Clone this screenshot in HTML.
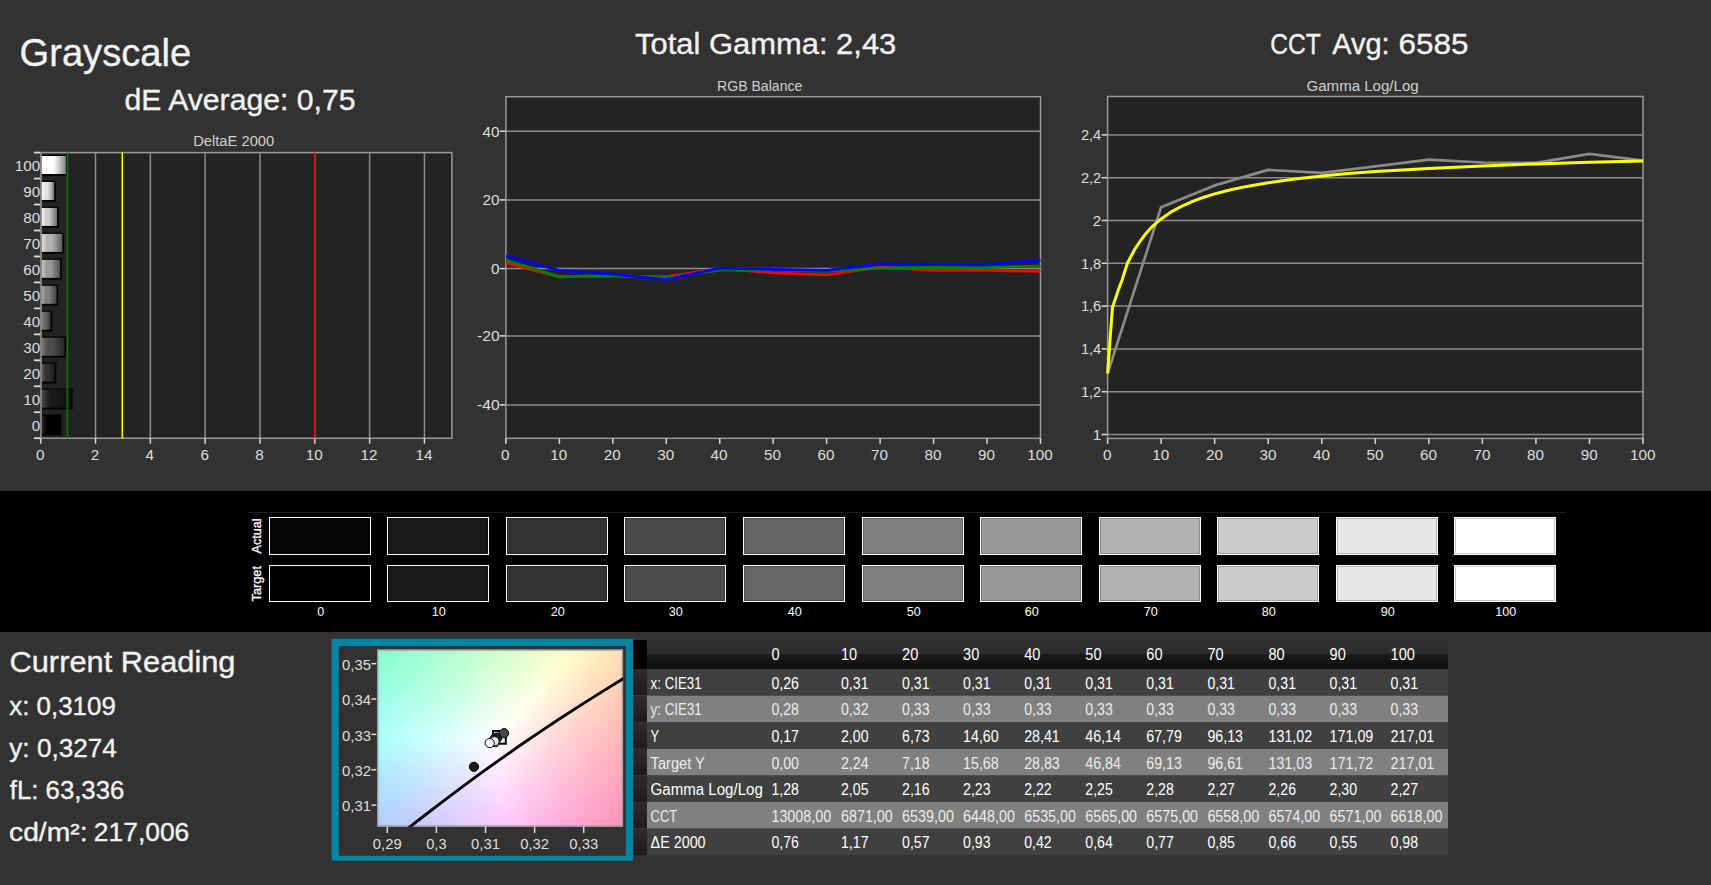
<!DOCTYPE html>
<html lang="en"><head><meta charset="utf-8"><title>Grayscale</title>
<style>
html,body{margin:0;padding:0;background:#323232;overflow:hidden}
svg{display:block;font-family:"Liberation Sans", "DejaVu Sans", sans-serif}
text{white-space:pre}
</style></head><body>
<svg width="1711" height="885" viewBox="0 0 1711 885">
<defs><linearGradient id="b100" x1="0" x2="1" y1="0" y2="0"><stop offset="0" stop-color="rgb(255,255,255)"/><stop offset="0.28" stop-color="rgb(255,255,255)"/><stop offset="0.5" stop-color="rgb(255,255,255)"/><stop offset="1" stop-color="rgb(132,132,132)"/></linearGradient>
<linearGradient id="b90" x1="0" x2="1" y1="0" y2="0"><stop offset="0" stop-color="rgb(255,255,255)"/><stop offset="0.28" stop-color="rgb(229,229,229)"/><stop offset="0.5" stop-color="rgb(229,229,229)"/><stop offset="1" stop-color="rgb(119,119,119)"/></linearGradient>
<linearGradient id="b80" x1="0" x2="1" y1="0" y2="0"><stop offset="0" stop-color="rgb(252,252,252)"/><stop offset="0.28" stop-color="rgb(204,204,204)"/><stop offset="0.5" stop-color="rgb(204,204,204)"/><stop offset="1" stop-color="rgb(106,106,106)"/></linearGradient>
<linearGradient id="b70" x1="0" x2="1" y1="0" y2="0"><stop offset="0" stop-color="rgb(226,226,226)"/><stop offset="0.28" stop-color="rgb(178,178,178)"/><stop offset="0.5" stop-color="rgb(178,178,178)"/><stop offset="1" stop-color="rgb(92,92,92)"/></linearGradient>
<linearGradient id="b60" x1="0" x2="1" y1="0" y2="0"><stop offset="0" stop-color="rgb(201,201,201)"/><stop offset="0.28" stop-color="rgb(153,153,153)"/><stop offset="0.5" stop-color="rgb(153,153,153)"/><stop offset="1" stop-color="rgb(79,79,79)"/></linearGradient>
<linearGradient id="b50" x1="0" x2="1" y1="0" y2="0"><stop offset="0" stop-color="rgb(175,175,175)"/><stop offset="0.28" stop-color="rgb(127,127,127)"/><stop offset="0.5" stop-color="rgb(127,127,127)"/><stop offset="1" stop-color="rgb(66,66,66)"/></linearGradient>
<linearGradient id="b40" x1="0" x2="1" y1="0" y2="0"><stop offset="0" stop-color="rgb(150,150,150)"/><stop offset="0.28" stop-color="rgb(102,102,102)"/><stop offset="0.5" stop-color="rgb(102,102,102)"/><stop offset="1" stop-color="rgb(53,53,53)"/></linearGradient>
<linearGradient id="b30" x1="0" x2="1" y1="0" y2="0"><stop offset="0" stop-color="rgb(124,124,124)"/><stop offset="0.28" stop-color="rgb(76,76,76)"/><stop offset="0.5" stop-color="rgb(76,76,76)"/><stop offset="1" stop-color="rgb(39,39,39)"/></linearGradient>
<linearGradient id="b20" x1="0" x2="1" y1="0" y2="0"><stop offset="0" stop-color="rgb(99,99,99)"/><stop offset="0.28" stop-color="rgb(51,51,51)"/><stop offset="0.5" stop-color="rgb(51,51,51)"/><stop offset="1" stop-color="rgb(26,26,26)"/></linearGradient>
<linearGradient id="b10" x1="0" x2="1" y1="0" y2="0"><stop offset="0" stop-color="rgb(74,74,74)"/><stop offset="0.28" stop-color="rgb(26,26,26)"/><stop offset="0.5" stop-color="rgb(26,26,26)"/><stop offset="1" stop-color="rgb(13,13,13)"/></linearGradient>
<linearGradient id="b0" x1="0" x2="1" y1="0" y2="0"><stop offset="0" stop-color="rgb(48,48,48)"/><stop offset="0.28" stop-color="rgb(0,0,0)"/><stop offset="0.5" stop-color="rgb(0,0,0)"/><stop offset="1" stop-color="rgb(0,0,0)"/></linearGradient>
<linearGradient id="c0"><stop offset="0.000" stop-color="#87ffce"/><stop offset="0.056" stop-color="#8fffce"/><stop offset="0.111" stop-color="#97ffce"/><stop offset="0.167" stop-color="#9effcd"/><stop offset="0.222" stop-color="#a6ffcd"/><stop offset="0.278" stop-color="#aeffcd"/><stop offset="0.333" stop-color="#b7ffcc"/><stop offset="0.389" stop-color="#bfffcc"/><stop offset="0.444" stop-color="#c7ffcc"/><stop offset="0.500" stop-color="#d0ffcb"/><stop offset="0.556" stop-color="#d9ffcb"/><stop offset="0.611" stop-color="#e1ffcb"/><stop offset="0.667" stop-color="#eaffca"/><stop offset="0.722" stop-color="#f3ffca"/><stop offset="0.778" stop-color="#fdffc9"/><stop offset="0.833" stop-color="#fff8c4"/><stop offset="0.889" stop-color="#ffefbc"/><stop offset="0.944" stop-color="#ffe7b6"/><stop offset="1.000" stop-color="#ffdfaf"/></linearGradient>
<linearGradient id="c1"><stop offset="0.000" stop-color="#88ffd0"/><stop offset="0.056" stop-color="#90ffd0"/><stop offset="0.111" stop-color="#98ffcf"/><stop offset="0.167" stop-color="#a0ffcf"/><stop offset="0.222" stop-color="#a8ffcf"/><stop offset="0.278" stop-color="#b0ffce"/><stop offset="0.333" stop-color="#b8ffce"/><stop offset="0.389" stop-color="#c0ffce"/><stop offset="0.444" stop-color="#c9ffcd"/><stop offset="0.500" stop-color="#d1ffcd"/><stop offset="0.556" stop-color="#daffcd"/><stop offset="0.611" stop-color="#e3ffcc"/><stop offset="0.667" stop-color="#ecffcc"/><stop offset="0.722" stop-color="#f5ffcb"/><stop offset="0.778" stop-color="#feffcb"/><stop offset="0.833" stop-color="#fff6c4"/><stop offset="0.889" stop-color="#ffeebd"/><stop offset="0.944" stop-color="#ffe6b6"/><stop offset="1.000" stop-color="#ffdeaf"/></linearGradient>
<linearGradient id="c2"><stop offset="0.000" stop-color="#89ffd1"/><stop offset="0.056" stop-color="#91ffd1"/><stop offset="0.111" stop-color="#99ffd1"/><stop offset="0.167" stop-color="#a1ffd1"/><stop offset="0.222" stop-color="#a9ffd0"/><stop offset="0.278" stop-color="#b1ffd0"/><stop offset="0.333" stop-color="#b9ffd0"/><stop offset="0.389" stop-color="#c2ffcf"/><stop offset="0.444" stop-color="#caffcf"/><stop offset="0.500" stop-color="#d3ffcf"/><stop offset="0.556" stop-color="#dcffce"/><stop offset="0.611" stop-color="#e5ffce"/><stop offset="0.667" stop-color="#eeffcd"/><stop offset="0.722" stop-color="#f7ffcd"/><stop offset="0.778" stop-color="#fffecc"/><stop offset="0.833" stop-color="#fff5c4"/><stop offset="0.889" stop-color="#ffecbd"/><stop offset="0.944" stop-color="#ffe4b6"/><stop offset="1.000" stop-color="#ffdcb0"/></linearGradient>
<linearGradient id="c3"><stop offset="0.000" stop-color="#8bffd3"/><stop offset="0.056" stop-color="#92ffd3"/><stop offset="0.111" stop-color="#9affd2"/><stop offset="0.167" stop-color="#a2ffd2"/><stop offset="0.222" stop-color="#aaffd2"/><stop offset="0.278" stop-color="#b2ffd1"/><stop offset="0.333" stop-color="#bbffd1"/><stop offset="0.389" stop-color="#c3ffd1"/><stop offset="0.444" stop-color="#ccffd0"/><stop offset="0.500" stop-color="#d4ffd0"/><stop offset="0.556" stop-color="#ddffd0"/><stop offset="0.611" stop-color="#e6ffcf"/><stop offset="0.667" stop-color="#efffcf"/><stop offset="0.722" stop-color="#f9ffcf"/><stop offset="0.778" stop-color="#fffccc"/><stop offset="0.833" stop-color="#fff3c4"/><stop offset="0.889" stop-color="#ffebbd"/><stop offset="0.944" stop-color="#ffe3b6"/><stop offset="1.000" stop-color="#ffdbb0"/></linearGradient>
<linearGradient id="c4"><stop offset="0.000" stop-color="#8cffd5"/><stop offset="0.056" stop-color="#93ffd4"/><stop offset="0.111" stop-color="#9bffd4"/><stop offset="0.167" stop-color="#a3ffd4"/><stop offset="0.222" stop-color="#abffd3"/><stop offset="0.278" stop-color="#b4ffd3"/><stop offset="0.333" stop-color="#bcffd3"/><stop offset="0.389" stop-color="#c5ffd2"/><stop offset="0.444" stop-color="#cdffd2"/><stop offset="0.500" stop-color="#d6ffd2"/><stop offset="0.556" stop-color="#dfffd1"/><stop offset="0.611" stop-color="#e8ffd1"/><stop offset="0.667" stop-color="#f1ffd1"/><stop offset="0.722" stop-color="#faffd0"/><stop offset="0.778" stop-color="#fffacc"/><stop offset="0.833" stop-color="#fff1c5"/><stop offset="0.889" stop-color="#ffe9be"/><stop offset="0.944" stop-color="#ffe1b7"/><stop offset="1.000" stop-color="#ffd9b0"/></linearGradient>
<linearGradient id="c5"><stop offset="0.000" stop-color="#8dffd6"/><stop offset="0.056" stop-color="#95ffd6"/><stop offset="0.111" stop-color="#9dffd6"/><stop offset="0.167" stop-color="#a5ffd5"/><stop offset="0.222" stop-color="#adffd5"/><stop offset="0.278" stop-color="#b5ffd5"/><stop offset="0.333" stop-color="#bdffd4"/><stop offset="0.389" stop-color="#c6ffd4"/><stop offset="0.444" stop-color="#cfffd4"/><stop offset="0.500" stop-color="#d7ffd3"/><stop offset="0.556" stop-color="#e0ffd3"/><stop offset="0.611" stop-color="#e9ffd3"/><stop offset="0.667" stop-color="#f3ffd2"/><stop offset="0.722" stop-color="#fcffd2"/><stop offset="0.778" stop-color="#fff9cd"/><stop offset="0.833" stop-color="#fff0c5"/><stop offset="0.889" stop-color="#ffe7be"/><stop offset="0.944" stop-color="#ffe0b7"/><stop offset="1.000" stop-color="#ffd8b1"/></linearGradient>
<linearGradient id="c6"><stop offset="0.000" stop-color="#8effd8"/><stop offset="0.056" stop-color="#96ffd7"/><stop offset="0.111" stop-color="#9effd7"/><stop offset="0.167" stop-color="#a6ffd7"/><stop offset="0.222" stop-color="#aeffd7"/><stop offset="0.278" stop-color="#b6ffd6"/><stop offset="0.333" stop-color="#bfffd6"/><stop offset="0.389" stop-color="#c7ffd6"/><stop offset="0.444" stop-color="#d0ffd5"/><stop offset="0.500" stop-color="#d9ffd5"/><stop offset="0.556" stop-color="#e2ffd5"/><stop offset="0.611" stop-color="#ebffd4"/><stop offset="0.667" stop-color="#f4ffd4"/><stop offset="0.722" stop-color="#feffd4"/><stop offset="0.778" stop-color="#fff7cd"/><stop offset="0.833" stop-color="#ffeec5"/><stop offset="0.889" stop-color="#ffe6be"/><stop offset="0.944" stop-color="#ffdeb7"/><stop offset="1.000" stop-color="#ffd7b1"/></linearGradient>
<linearGradient id="c7"><stop offset="0.000" stop-color="#8fffd9"/><stop offset="0.056" stop-color="#97ffd9"/><stop offset="0.111" stop-color="#9fffd9"/><stop offset="0.167" stop-color="#a7ffd8"/><stop offset="0.222" stop-color="#afffd8"/><stop offset="0.278" stop-color="#b8ffd8"/><stop offset="0.333" stop-color="#c0ffd8"/><stop offset="0.389" stop-color="#c9ffd7"/><stop offset="0.444" stop-color="#d2ffd7"/><stop offset="0.500" stop-color="#daffd7"/><stop offset="0.556" stop-color="#e4ffd6"/><stop offset="0.611" stop-color="#edffd6"/><stop offset="0.667" stop-color="#f6ffd6"/><stop offset="0.722" stop-color="#ffffd5"/><stop offset="0.778" stop-color="#fff5cd"/><stop offset="0.833" stop-color="#ffedc6"/><stop offset="0.889" stop-color="#ffe4be"/><stop offset="0.944" stop-color="#ffddb8"/><stop offset="1.000" stop-color="#ffd5b1"/></linearGradient>
<linearGradient id="c8"><stop offset="0.000" stop-color="#90ffdb"/><stop offset="0.056" stop-color="#98ffdb"/><stop offset="0.111" stop-color="#a0ffda"/><stop offset="0.167" stop-color="#a8ffda"/><stop offset="0.222" stop-color="#b1ffda"/><stop offset="0.278" stop-color="#b9ffda"/><stop offset="0.333" stop-color="#c2ffd9"/><stop offset="0.389" stop-color="#caffd9"/><stop offset="0.444" stop-color="#d3ffd9"/><stop offset="0.500" stop-color="#dcffd8"/><stop offset="0.556" stop-color="#e5ffd8"/><stop offset="0.611" stop-color="#eeffd8"/><stop offset="0.667" stop-color="#f8ffd8"/><stop offset="0.722" stop-color="#fffdd5"/><stop offset="0.778" stop-color="#fff4cd"/><stop offset="0.833" stop-color="#ffebc6"/><stop offset="0.889" stop-color="#ffe3bf"/><stop offset="0.944" stop-color="#ffdbb8"/><stop offset="1.000" stop-color="#ffd4b1"/></linearGradient>
<linearGradient id="c9"><stop offset="0.000" stop-color="#91ffdc"/><stop offset="0.056" stop-color="#99ffdc"/><stop offset="0.111" stop-color="#a1ffdc"/><stop offset="0.167" stop-color="#aaffdc"/><stop offset="0.222" stop-color="#b2ffdb"/><stop offset="0.278" stop-color="#baffdb"/><stop offset="0.333" stop-color="#c3ffdb"/><stop offset="0.389" stop-color="#ccffdb"/><stop offset="0.444" stop-color="#d5ffda"/><stop offset="0.500" stop-color="#deffda"/><stop offset="0.556" stop-color="#e7ffda"/><stop offset="0.611" stop-color="#f0ffda"/><stop offset="0.667" stop-color="#f9ffd9"/><stop offset="0.722" stop-color="#fffbd6"/><stop offset="0.778" stop-color="#fff2ce"/><stop offset="0.833" stop-color="#ffe9c6"/><stop offset="0.889" stop-color="#ffe1bf"/><stop offset="0.944" stop-color="#ffdab8"/><stop offset="1.000" stop-color="#ffd2b2"/></linearGradient>
<linearGradient id="c10"><stop offset="0.000" stop-color="#93ffde"/><stop offset="0.056" stop-color="#9bffde"/><stop offset="0.111" stop-color="#a3ffde"/><stop offset="0.167" stop-color="#abffdd"/><stop offset="0.222" stop-color="#b3ffdd"/><stop offset="0.278" stop-color="#bcffdd"/><stop offset="0.333" stop-color="#c5ffdd"/><stop offset="0.389" stop-color="#cdffdc"/><stop offset="0.444" stop-color="#d6ffdc"/><stop offset="0.500" stop-color="#dfffdc"/><stop offset="0.556" stop-color="#e8ffdc"/><stop offset="0.611" stop-color="#f2ffdb"/><stop offset="0.667" stop-color="#fbffdb"/><stop offset="0.722" stop-color="#fff9d6"/><stop offset="0.778" stop-color="#fff0ce"/><stop offset="0.833" stop-color="#ffe8c6"/><stop offset="0.889" stop-color="#ffe0bf"/><stop offset="0.944" stop-color="#ffd8b8"/><stop offset="1.000" stop-color="#ffd1b2"/></linearGradient>
<linearGradient id="c11"><stop offset="0.000" stop-color="#94ffe0"/><stop offset="0.056" stop-color="#9cffdf"/><stop offset="0.111" stop-color="#a4ffdf"/><stop offset="0.167" stop-color="#acffdf"/><stop offset="0.222" stop-color="#b5ffdf"/><stop offset="0.278" stop-color="#bdffde"/><stop offset="0.333" stop-color="#c6ffde"/><stop offset="0.389" stop-color="#cfffde"/><stop offset="0.444" stop-color="#d8ffde"/><stop offset="0.500" stop-color="#e1ffde"/><stop offset="0.556" stop-color="#eaffdd"/><stop offset="0.611" stop-color="#f3ffdd"/><stop offset="0.667" stop-color="#fdffdd"/><stop offset="0.722" stop-color="#fff8d6"/><stop offset="0.778" stop-color="#ffefce"/><stop offset="0.833" stop-color="#ffe6c7"/><stop offset="0.889" stop-color="#ffdebf"/><stop offset="0.944" stop-color="#ffd7b9"/><stop offset="1.000" stop-color="#ffcfb2"/></linearGradient>
<linearGradient id="c12"><stop offset="0.000" stop-color="#95ffe1"/><stop offset="0.056" stop-color="#9dffe1"/><stop offset="0.111" stop-color="#a5ffe1"/><stop offset="0.167" stop-color="#aeffe1"/><stop offset="0.222" stop-color="#b6ffe0"/><stop offset="0.278" stop-color="#bfffe0"/><stop offset="0.333" stop-color="#c7ffe0"/><stop offset="0.389" stop-color="#d0ffe0"/><stop offset="0.444" stop-color="#d9ffe0"/><stop offset="0.500" stop-color="#e2ffdf"/><stop offset="0.556" stop-color="#ecffdf"/><stop offset="0.611" stop-color="#f5ffdf"/><stop offset="0.667" stop-color="#ffffdf"/><stop offset="0.722" stop-color="#fff6d6"/><stop offset="0.778" stop-color="#ffedce"/><stop offset="0.833" stop-color="#ffe5c7"/><stop offset="0.889" stop-color="#ffddc0"/><stop offset="0.944" stop-color="#ffd5b9"/><stop offset="1.000" stop-color="#ffceb3"/></linearGradient>
<linearGradient id="c13"><stop offset="0.000" stop-color="#96ffe3"/><stop offset="0.056" stop-color="#9effe3"/><stop offset="0.111" stop-color="#a7ffe2"/><stop offset="0.167" stop-color="#afffe2"/><stop offset="0.222" stop-color="#b7ffe2"/><stop offset="0.278" stop-color="#c0ffe2"/><stop offset="0.333" stop-color="#c9ffe2"/><stop offset="0.389" stop-color="#d2ffe1"/><stop offset="0.444" stop-color="#dbffe1"/><stop offset="0.500" stop-color="#e4ffe1"/><stop offset="0.556" stop-color="#edffe1"/><stop offset="0.611" stop-color="#f7ffe1"/><stop offset="0.667" stop-color="#fffddf"/><stop offset="0.722" stop-color="#fff4d7"/><stop offset="0.778" stop-color="#ffebcf"/><stop offset="0.833" stop-color="#ffe3c7"/><stop offset="0.889" stop-color="#ffdbc0"/><stop offset="0.944" stop-color="#ffd4b9"/><stop offset="1.000" stop-color="#ffcdb3"/></linearGradient>
<linearGradient id="c14"><stop offset="0.000" stop-color="#97ffe5"/><stop offset="0.056" stop-color="#a0ffe4"/><stop offset="0.111" stop-color="#a8ffe4"/><stop offset="0.167" stop-color="#b0ffe4"/><stop offset="0.222" stop-color="#b9ffe4"/><stop offset="0.278" stop-color="#c2ffe4"/><stop offset="0.333" stop-color="#caffe3"/><stop offset="0.389" stop-color="#d3ffe3"/><stop offset="0.444" stop-color="#dcffe3"/><stop offset="0.500" stop-color="#e6ffe3"/><stop offset="0.556" stop-color="#efffe3"/><stop offset="0.611" stop-color="#f9ffe2"/><stop offset="0.667" stop-color="#fffcdf"/><stop offset="0.722" stop-color="#fff2d7"/><stop offset="0.778" stop-color="#ffeacf"/><stop offset="0.833" stop-color="#ffe1c7"/><stop offset="0.889" stop-color="#ffdac0"/><stop offset="0.944" stop-color="#ffd2b9"/><stop offset="1.000" stop-color="#ffcbb3"/></linearGradient>
<linearGradient id="c15"><stop offset="0.000" stop-color="#99ffe6"/><stop offset="0.056" stop-color="#a1ffe6"/><stop offset="0.111" stop-color="#a9ffe6"/><stop offset="0.167" stop-color="#b2ffe6"/><stop offset="0.222" stop-color="#baffe6"/><stop offset="0.278" stop-color="#c3ffe5"/><stop offset="0.333" stop-color="#ccffe5"/><stop offset="0.389" stop-color="#d5ffe5"/><stop offset="0.444" stop-color="#deffe5"/><stop offset="0.500" stop-color="#e7ffe5"/><stop offset="0.556" stop-color="#f1ffe4"/><stop offset="0.611" stop-color="#faffe4"/><stop offset="0.667" stop-color="#fffadf"/><stop offset="0.722" stop-color="#fff1d7"/><stop offset="0.778" stop-color="#ffe8cf"/><stop offset="0.833" stop-color="#ffe0c8"/><stop offset="0.889" stop-color="#ffd8c0"/><stop offset="0.944" stop-color="#ffd1ba"/><stop offset="1.000" stop-color="#ffcab3"/></linearGradient>
<linearGradient id="c16"><stop offset="0.000" stop-color="#9affe8"/><stop offset="0.056" stop-color="#a2ffe8"/><stop offset="0.111" stop-color="#abffe8"/><stop offset="0.167" stop-color="#b3ffe7"/><stop offset="0.222" stop-color="#bcffe7"/><stop offset="0.278" stop-color="#c4ffe7"/><stop offset="0.333" stop-color="#cdffe7"/><stop offset="0.389" stop-color="#d6ffe7"/><stop offset="0.444" stop-color="#e0ffe7"/><stop offset="0.500" stop-color="#e9ffe6"/><stop offset="0.556" stop-color="#f3ffe6"/><stop offset="0.611" stop-color="#fcffe6"/><stop offset="0.667" stop-color="#fff8e0"/><stop offset="0.722" stop-color="#ffefd7"/><stop offset="0.778" stop-color="#ffe6cf"/><stop offset="0.833" stop-color="#ffdec8"/><stop offset="0.889" stop-color="#ffd7c1"/><stop offset="0.944" stop-color="#ffcfba"/><stop offset="1.000" stop-color="#ffc8b4"/></linearGradient>
<linearGradient id="c17"><stop offset="0.000" stop-color="#9bffea"/><stop offset="0.056" stop-color="#a3ffe9"/><stop offset="0.111" stop-color="#acffe9"/><stop offset="0.167" stop-color="#b4ffe9"/><stop offset="0.222" stop-color="#bdffe9"/><stop offset="0.278" stop-color="#c6ffe9"/><stop offset="0.333" stop-color="#cfffe9"/><stop offset="0.389" stop-color="#d8ffe9"/><stop offset="0.444" stop-color="#e1ffe8"/><stop offset="0.500" stop-color="#ebffe8"/><stop offset="0.556" stop-color="#f4ffe8"/><stop offset="0.611" stop-color="#feffe8"/><stop offset="0.667" stop-color="#fff6e0"/><stop offset="0.722" stop-color="#ffedd7"/><stop offset="0.778" stop-color="#ffe5d0"/><stop offset="0.833" stop-color="#ffddc8"/><stop offset="0.889" stop-color="#ffd5c1"/><stop offset="0.944" stop-color="#ffceba"/><stop offset="1.000" stop-color="#ffc7b4"/></linearGradient>
<linearGradient id="c18"><stop offset="0.000" stop-color="#9cffeb"/><stop offset="0.056" stop-color="#a5ffeb"/><stop offset="0.111" stop-color="#adffeb"/><stop offset="0.167" stop-color="#b6ffeb"/><stop offset="0.222" stop-color="#bfffeb"/><stop offset="0.278" stop-color="#c7ffeb"/><stop offset="0.333" stop-color="#d0ffea"/><stop offset="0.389" stop-color="#daffea"/><stop offset="0.444" stop-color="#e3ffea"/><stop offset="0.500" stop-color="#ecffea"/><stop offset="0.556" stop-color="#f6ffea"/><stop offset="0.611" stop-color="#fffee9"/><stop offset="0.667" stop-color="#fff5e0"/><stop offset="0.722" stop-color="#ffecd8"/><stop offset="0.778" stop-color="#ffe3d0"/><stop offset="0.833" stop-color="#ffdbc8"/><stop offset="0.889" stop-color="#ffd4c1"/><stop offset="0.944" stop-color="#ffccbb"/><stop offset="1.000" stop-color="#ffc6b4"/></linearGradient>
<linearGradient id="c19"><stop offset="0.000" stop-color="#9effed"/><stop offset="0.056" stop-color="#a6ffed"/><stop offset="0.111" stop-color="#afffed"/><stop offset="0.167" stop-color="#b7ffed"/><stop offset="0.222" stop-color="#c0ffed"/><stop offset="0.278" stop-color="#c9ffec"/><stop offset="0.333" stop-color="#d2ffec"/><stop offset="0.389" stop-color="#dbffec"/><stop offset="0.444" stop-color="#e5ffec"/><stop offset="0.500" stop-color="#eeffec"/><stop offset="0.556" stop-color="#f8ffec"/><stop offset="0.611" stop-color="#fffce9"/><stop offset="0.667" stop-color="#fff3e0"/><stop offset="0.722" stop-color="#ffead8"/><stop offset="0.778" stop-color="#ffe2d0"/><stop offset="0.833" stop-color="#ffdac9"/><stop offset="0.889" stop-color="#ffd2c2"/><stop offset="0.944" stop-color="#ffcbbb"/><stop offset="1.000" stop-color="#ffc4b4"/></linearGradient>
<linearGradient id="c20"><stop offset="0.000" stop-color="#9fffef"/><stop offset="0.056" stop-color="#a7ffef"/><stop offset="0.111" stop-color="#b0ffef"/><stop offset="0.167" stop-color="#b9ffee"/><stop offset="0.222" stop-color="#c1ffee"/><stop offset="0.278" stop-color="#caffee"/><stop offset="0.333" stop-color="#d4ffee"/><stop offset="0.389" stop-color="#ddffee"/><stop offset="0.444" stop-color="#e6ffee"/><stop offset="0.500" stop-color="#f0ffee"/><stop offset="0.556" stop-color="#faffee"/><stop offset="0.611" stop-color="#fffbe9"/><stop offset="0.667" stop-color="#fff1e1"/><stop offset="0.722" stop-color="#ffe8d8"/><stop offset="0.778" stop-color="#ffe0d0"/><stop offset="0.833" stop-color="#ffd8c9"/><stop offset="0.889" stop-color="#ffd1c2"/><stop offset="0.944" stop-color="#ffcabb"/><stop offset="1.000" stop-color="#ffc3b5"/></linearGradient>
<linearGradient id="c21"><stop offset="0.000" stop-color="#a0fff1"/><stop offset="0.056" stop-color="#a9fff0"/><stop offset="0.111" stop-color="#b1fff0"/><stop offset="0.167" stop-color="#bafff0"/><stop offset="0.222" stop-color="#c3fff0"/><stop offset="0.278" stop-color="#ccfff0"/><stop offset="0.333" stop-color="#d5fff0"/><stop offset="0.389" stop-color="#dffff0"/><stop offset="0.444" stop-color="#e8fff0"/><stop offset="0.500" stop-color="#f2fff0"/><stop offset="0.556" stop-color="#fbfff0"/><stop offset="0.611" stop-color="#fff9ea"/><stop offset="0.667" stop-color="#ffefe1"/><stop offset="0.722" stop-color="#ffe7d8"/><stop offset="0.778" stop-color="#ffded1"/><stop offset="0.833" stop-color="#ffd7c9"/><stop offset="0.889" stop-color="#ffcfc2"/><stop offset="0.944" stop-color="#ffc8bb"/><stop offset="1.000" stop-color="#ffc1b5"/></linearGradient>
<linearGradient id="c22"><stop offset="0.000" stop-color="#a1fff2"/><stop offset="0.056" stop-color="#aafff2"/><stop offset="0.111" stop-color="#b3fff2"/><stop offset="0.167" stop-color="#bcfff2"/><stop offset="0.222" stop-color="#c4fff2"/><stop offset="0.278" stop-color="#cefff2"/><stop offset="0.333" stop-color="#d7fff2"/><stop offset="0.389" stop-color="#e0fff2"/><stop offset="0.444" stop-color="#eafff2"/><stop offset="0.500" stop-color="#f3fff2"/><stop offset="0.556" stop-color="#fdfff1"/><stop offset="0.611" stop-color="#fff7ea"/><stop offset="0.667" stop-color="#ffeee1"/><stop offset="0.722" stop-color="#ffe5d9"/><stop offset="0.778" stop-color="#ffddd1"/><stop offset="0.833" stop-color="#ffd5c9"/><stop offset="0.889" stop-color="#ffcec2"/><stop offset="0.944" stop-color="#ffc7bc"/><stop offset="1.000" stop-color="#ffc0b5"/></linearGradient>
<linearGradient id="c23"><stop offset="0.000" stop-color="#a3fff4"/><stop offset="0.056" stop-color="#abfff4"/><stop offset="0.111" stop-color="#b4fff4"/><stop offset="0.167" stop-color="#bdfff4"/><stop offset="0.222" stop-color="#c6fff4"/><stop offset="0.278" stop-color="#cffff4"/><stop offset="0.333" stop-color="#d8fff4"/><stop offset="0.389" stop-color="#e2fff4"/><stop offset="0.444" stop-color="#ebfff4"/><stop offset="0.500" stop-color="#f5fff3"/><stop offset="0.556" stop-color="#fffff3"/><stop offset="0.611" stop-color="#fff5ea"/><stop offset="0.667" stop-color="#ffece1"/><stop offset="0.722" stop-color="#ffe3d9"/><stop offset="0.778" stop-color="#ffdbd1"/><stop offset="0.833" stop-color="#ffd4ca"/><stop offset="0.889" stop-color="#ffccc3"/><stop offset="0.944" stop-color="#ffc5bc"/><stop offset="1.000" stop-color="#ffbfb6"/></linearGradient>
<linearGradient id="c24"><stop offset="0.000" stop-color="#a4fff6"/><stop offset="0.056" stop-color="#adfff6"/><stop offset="0.111" stop-color="#b6fff6"/><stop offset="0.167" stop-color="#befff6"/><stop offset="0.222" stop-color="#c7fff6"/><stop offset="0.278" stop-color="#d1fff6"/><stop offset="0.333" stop-color="#dafff6"/><stop offset="0.389" stop-color="#e4fff6"/><stop offset="0.444" stop-color="#edfff5"/><stop offset="0.500" stop-color="#f7fff5"/><stop offset="0.556" stop-color="#fffdf3"/><stop offset="0.611" stop-color="#fff3ea"/><stop offset="0.667" stop-color="#ffeae1"/><stop offset="0.722" stop-color="#ffe2d9"/><stop offset="0.778" stop-color="#ffdad1"/><stop offset="0.833" stop-color="#ffd2ca"/><stop offset="0.889" stop-color="#ffcbc3"/><stop offset="0.944" stop-color="#ffc4bc"/><stop offset="1.000" stop-color="#ffbdb6"/></linearGradient>
<linearGradient id="c25"><stop offset="0.000" stop-color="#a5fff8"/><stop offset="0.056" stop-color="#aefff8"/><stop offset="0.111" stop-color="#b7fff8"/><stop offset="0.167" stop-color="#c0fff8"/><stop offset="0.222" stop-color="#c9fff8"/><stop offset="0.278" stop-color="#d2fff8"/><stop offset="0.333" stop-color="#dcfff8"/><stop offset="0.389" stop-color="#e5fff7"/><stop offset="0.444" stop-color="#effff7"/><stop offset="0.500" stop-color="#f9fff7"/><stop offset="0.556" stop-color="#fffbf4"/><stop offset="0.611" stop-color="#fff2ea"/><stop offset="0.667" stop-color="#ffe9e2"/><stop offset="0.722" stop-color="#ffe0d9"/><stop offset="0.778" stop-color="#ffd8d1"/><stop offset="0.833" stop-color="#ffd1ca"/><stop offset="0.889" stop-color="#ffc9c3"/><stop offset="0.944" stop-color="#ffc3bc"/><stop offset="1.000" stop-color="#ffbcb6"/></linearGradient>
<linearGradient id="c26"><stop offset="0.000" stop-color="#a7fffa"/><stop offset="0.056" stop-color="#b0fffa"/><stop offset="0.111" stop-color="#b8fffa"/><stop offset="0.167" stop-color="#c1fffa"/><stop offset="0.222" stop-color="#cbfff9"/><stop offset="0.278" stop-color="#d4fff9"/><stop offset="0.333" stop-color="#ddfff9"/><stop offset="0.389" stop-color="#e7fff9"/><stop offset="0.444" stop-color="#f1fff9"/><stop offset="0.500" stop-color="#fbfff9"/><stop offset="0.556" stop-color="#fff9f4"/><stop offset="0.611" stop-color="#fff0eb"/><stop offset="0.667" stop-color="#ffe7e2"/><stop offset="0.722" stop-color="#ffdfda"/><stop offset="0.778" stop-color="#ffd7d2"/><stop offset="0.833" stop-color="#ffcfca"/><stop offset="0.889" stop-color="#ffc8c3"/><stop offset="0.944" stop-color="#ffc1bd"/><stop offset="1.000" stop-color="#ffbbb6"/></linearGradient>
<linearGradient id="c27"><stop offset="0.000" stop-color="#a8fffb"/><stop offset="0.056" stop-color="#b1fffb"/><stop offset="0.111" stop-color="#bafffb"/><stop offset="0.167" stop-color="#c3fffb"/><stop offset="0.222" stop-color="#ccfffb"/><stop offset="0.278" stop-color="#d6fffb"/><stop offset="0.333" stop-color="#dffffb"/><stop offset="0.389" stop-color="#e9fffb"/><stop offset="0.444" stop-color="#f3fffb"/><stop offset="0.500" stop-color="#fdfffb"/><stop offset="0.556" stop-color="#fff8f4"/><stop offset="0.611" stop-color="#ffeeeb"/><stop offset="0.667" stop-color="#ffe5e2"/><stop offset="0.722" stop-color="#ffddda"/><stop offset="0.778" stop-color="#ffd5d2"/><stop offset="0.833" stop-color="#ffcecb"/><stop offset="0.889" stop-color="#ffc6c4"/><stop offset="0.944" stop-color="#ffc0bd"/><stop offset="1.000" stop-color="#ffb9b7"/></linearGradient>
<linearGradient id="c28"><stop offset="0.000" stop-color="#aafffd"/><stop offset="0.056" stop-color="#b2fffd"/><stop offset="0.111" stop-color="#bbfffd"/><stop offset="0.167" stop-color="#c4fffd"/><stop offset="0.222" stop-color="#cefffd"/><stop offset="0.278" stop-color="#d7fffd"/><stop offset="0.333" stop-color="#e1fffd"/><stop offset="0.389" stop-color="#eafffd"/><stop offset="0.444" stop-color="#f4fffd"/><stop offset="0.500" stop-color="#fefffd"/><stop offset="0.556" stop-color="#fff6f4"/><stop offset="0.611" stop-color="#ffeceb"/><stop offset="0.667" stop-color="#ffe4e2"/><stop offset="0.722" stop-color="#ffdbda"/><stop offset="0.778" stop-color="#ffd4d2"/><stop offset="0.833" stop-color="#ffcccb"/><stop offset="0.889" stop-color="#ffc5c4"/><stop offset="0.944" stop-color="#ffbebd"/><stop offset="1.000" stop-color="#ffb8b7"/></linearGradient>
<linearGradient id="c29"><stop offset="0.000" stop-color="#abffff"/><stop offset="0.056" stop-color="#b4ffff"/><stop offset="0.111" stop-color="#bdffff"/><stop offset="0.167" stop-color="#c6ffff"/><stop offset="0.222" stop-color="#cfffff"/><stop offset="0.278" stop-color="#d9ffff"/><stop offset="0.333" stop-color="#e2ffff"/><stop offset="0.389" stop-color="#ecffff"/><stop offset="0.444" stop-color="#f6ffff"/><stop offset="0.500" stop-color="#fffefe"/><stop offset="0.556" stop-color="#fff4f4"/><stop offset="0.611" stop-color="#ffebeb"/><stop offset="0.667" stop-color="#ffe2e2"/><stop offset="0.722" stop-color="#ffdada"/><stop offset="0.778" stop-color="#ffd2d2"/><stop offset="0.833" stop-color="#ffcbcb"/><stop offset="0.889" stop-color="#ffc4c4"/><stop offset="0.944" stop-color="#ffbdbd"/><stop offset="1.000" stop-color="#ffb7b7"/></linearGradient>
<linearGradient id="c30"><stop offset="0.000" stop-color="#abfdff"/><stop offset="0.056" stop-color="#b4fdff"/><stop offset="0.111" stop-color="#bdfdff"/><stop offset="0.167" stop-color="#c6fdff"/><stop offset="0.222" stop-color="#cffdff"/><stop offset="0.278" stop-color="#d9fdff"/><stop offset="0.333" stop-color="#e2fdff"/><stop offset="0.389" stop-color="#ecfdff"/><stop offset="0.444" stop-color="#f6fdff"/><stop offset="0.500" stop-color="#fffcfe"/><stop offset="0.556" stop-color="#fff2f4"/><stop offset="0.611" stop-color="#ffe9eb"/><stop offset="0.667" stop-color="#ffe0e3"/><stop offset="0.722" stop-color="#ffd8da"/><stop offset="0.778" stop-color="#ffd0d3"/><stop offset="0.833" stop-color="#ffc9cb"/><stop offset="0.889" stop-color="#ffc2c4"/><stop offset="0.944" stop-color="#ffbcbe"/><stop offset="1.000" stop-color="#ffb5b7"/></linearGradient>
<linearGradient id="c31"><stop offset="0.000" stop-color="#abfbff"/><stop offset="0.056" stop-color="#b4fbff"/><stop offset="0.111" stop-color="#bdfbff"/><stop offset="0.167" stop-color="#c6fbff"/><stop offset="0.222" stop-color="#cffbff"/><stop offset="0.278" stop-color="#d8fbff"/><stop offset="0.333" stop-color="#e2fbff"/><stop offset="0.389" stop-color="#ecfbff"/><stop offset="0.444" stop-color="#f6fbff"/><stop offset="0.500" stop-color="#fffafe"/><stop offset="0.556" stop-color="#fff0f5"/><stop offset="0.611" stop-color="#ffe7eb"/><stop offset="0.667" stop-color="#ffdfe3"/><stop offset="0.722" stop-color="#ffd7db"/><stop offset="0.778" stop-color="#ffcfd3"/><stop offset="0.833" stop-color="#ffc8cc"/><stop offset="0.889" stop-color="#ffc1c5"/><stop offset="0.944" stop-color="#ffbabe"/><stop offset="1.000" stop-color="#ffb4b8"/></linearGradient>
<linearGradient id="c32"><stop offset="0.000" stop-color="#abf9ff"/><stop offset="0.056" stop-color="#b4f9ff"/><stop offset="0.111" stop-color="#bdf9ff"/><stop offset="0.167" stop-color="#c6f9ff"/><stop offset="0.222" stop-color="#cff9ff"/><stop offset="0.278" stop-color="#d8f9ff"/><stop offset="0.333" stop-color="#e2f9ff"/><stop offset="0.389" stop-color="#ecf9ff"/><stop offset="0.444" stop-color="#f5f9ff"/><stop offset="0.500" stop-color="#fff8ff"/><stop offset="0.556" stop-color="#ffeff5"/><stop offset="0.611" stop-color="#ffe6ec"/><stop offset="0.667" stop-color="#ffdde3"/><stop offset="0.722" stop-color="#ffd5db"/><stop offset="0.778" stop-color="#ffcdd3"/><stop offset="0.833" stop-color="#ffc6cc"/><stop offset="0.889" stop-color="#ffbfc5"/><stop offset="0.944" stop-color="#ffb9be"/><stop offset="1.000" stop-color="#ffb3b8"/></linearGradient>
<linearGradient id="c33"><stop offset="0.000" stop-color="#abf7ff"/><stop offset="0.056" stop-color="#b4f7ff"/><stop offset="0.111" stop-color="#bdf7ff"/><stop offset="0.167" stop-color="#c6f7ff"/><stop offset="0.222" stop-color="#cff7ff"/><stop offset="0.278" stop-color="#d8f7ff"/><stop offset="0.333" stop-color="#e2f7ff"/><stop offset="0.389" stop-color="#ecf7ff"/><stop offset="0.444" stop-color="#f5f7ff"/><stop offset="0.500" stop-color="#fff6ff"/><stop offset="0.556" stop-color="#ffedf5"/><stop offset="0.611" stop-color="#ffe4ec"/><stop offset="0.667" stop-color="#ffdbe3"/><stop offset="0.722" stop-color="#ffd3db"/><stop offset="0.778" stop-color="#ffccd3"/><stop offset="0.833" stop-color="#ffc5cc"/><stop offset="0.889" stop-color="#ffbec5"/><stop offset="0.944" stop-color="#ffb8be"/><stop offset="1.000" stop-color="#ffb1b8"/></linearGradient>
<linearGradient id="c34"><stop offset="0.000" stop-color="#abf5ff"/><stop offset="0.056" stop-color="#b4f5ff"/><stop offset="0.111" stop-color="#bdf5ff"/><stop offset="0.167" stop-color="#c6f5ff"/><stop offset="0.222" stop-color="#cff5ff"/><stop offset="0.278" stop-color="#d8f5ff"/><stop offset="0.333" stop-color="#e2f5ff"/><stop offset="0.389" stop-color="#ebf5ff"/><stop offset="0.444" stop-color="#f5f5ff"/><stop offset="0.500" stop-color="#fff4ff"/><stop offset="0.556" stop-color="#ffebf5"/><stop offset="0.611" stop-color="#ffe2ec"/><stop offset="0.667" stop-color="#ffdae3"/><stop offset="0.722" stop-color="#ffd2db"/><stop offset="0.778" stop-color="#ffcad4"/><stop offset="0.833" stop-color="#ffc3cc"/><stop offset="0.889" stop-color="#ffbdc5"/><stop offset="0.944" stop-color="#ffb6bf"/><stop offset="1.000" stop-color="#ffb0b8"/></linearGradient>
<linearGradient id="c35"><stop offset="0.000" stop-color="#abf4ff"/><stop offset="0.056" stop-color="#b4f4ff"/><stop offset="0.111" stop-color="#bdf3ff"/><stop offset="0.167" stop-color="#c6f3ff"/><stop offset="0.222" stop-color="#cff3ff"/><stop offset="0.278" stop-color="#d8f3ff"/><stop offset="0.333" stop-color="#e2f3ff"/><stop offset="0.389" stop-color="#ebf3ff"/><stop offset="0.444" stop-color="#f5f3ff"/><stop offset="0.500" stop-color="#fff3ff"/><stop offset="0.556" stop-color="#ffe9f5"/><stop offset="0.611" stop-color="#ffe1ec"/><stop offset="0.667" stop-color="#ffd8e4"/><stop offset="0.722" stop-color="#ffd0db"/><stop offset="0.778" stop-color="#ffc9d4"/><stop offset="0.833" stop-color="#ffc2cc"/><stop offset="0.889" stop-color="#ffbbc6"/><stop offset="0.944" stop-color="#ffb5bf"/><stop offset="1.000" stop-color="#ffafb9"/></linearGradient>
<linearGradient id="c36"><stop offset="0.000" stop-color="#acf2ff"/><stop offset="0.056" stop-color="#b4f2ff"/><stop offset="0.111" stop-color="#bdf2ff"/><stop offset="0.167" stop-color="#c6f1ff"/><stop offset="0.222" stop-color="#cff1ff"/><stop offset="0.278" stop-color="#d8f1ff"/><stop offset="0.333" stop-color="#e2f1ff"/><stop offset="0.389" stop-color="#ebf1ff"/><stop offset="0.444" stop-color="#f5f1ff"/><stop offset="0.500" stop-color="#fff1ff"/><stop offset="0.556" stop-color="#ffe8f5"/><stop offset="0.611" stop-color="#ffdfec"/><stop offset="0.667" stop-color="#ffd7e4"/><stop offset="0.722" stop-color="#ffcfdc"/><stop offset="0.778" stop-color="#ffc8d4"/><stop offset="0.833" stop-color="#ffc1cd"/><stop offset="0.889" stop-color="#ffbac6"/><stop offset="0.944" stop-color="#ffb4bf"/><stop offset="1.000" stop-color="#ffaeb9"/></linearGradient>
<linearGradient id="c37"><stop offset="0.000" stop-color="#acf0ff"/><stop offset="0.056" stop-color="#b4f0ff"/><stop offset="0.111" stop-color="#bdf0ff"/><stop offset="0.167" stop-color="#c6f0ff"/><stop offset="0.222" stop-color="#cfefff"/><stop offset="0.278" stop-color="#d8efff"/><stop offset="0.333" stop-color="#e2efff"/><stop offset="0.389" stop-color="#ebefff"/><stop offset="0.444" stop-color="#f5efff"/><stop offset="0.500" stop-color="#ffefff"/><stop offset="0.556" stop-color="#ffe6f6"/><stop offset="0.611" stop-color="#ffdded"/><stop offset="0.667" stop-color="#ffd5e4"/><stop offset="0.722" stop-color="#ffcddc"/><stop offset="0.778" stop-color="#ffc6d4"/><stop offset="0.833" stop-color="#ffbfcd"/><stop offset="0.889" stop-color="#ffb9c6"/><stop offset="0.944" stop-color="#ffb2bf"/><stop offset="1.000" stop-color="#ffacb9"/></linearGradient>
<linearGradient id="c38"><stop offset="0.000" stop-color="#aceeff"/><stop offset="0.056" stop-color="#b4eeff"/><stop offset="0.111" stop-color="#bdeeff"/><stop offset="0.167" stop-color="#c6eeff"/><stop offset="0.222" stop-color="#cfeeff"/><stop offset="0.278" stop-color="#d8edff"/><stop offset="0.333" stop-color="#e2edff"/><stop offset="0.389" stop-color="#ebedff"/><stop offset="0.444" stop-color="#f5edff"/><stop offset="0.500" stop-color="#ffedff"/><stop offset="0.556" stop-color="#ffe4f6"/><stop offset="0.611" stop-color="#ffdced"/><stop offset="0.667" stop-color="#ffd3e4"/><stop offset="0.722" stop-color="#ffccdc"/><stop offset="0.778" stop-color="#ffc5d4"/><stop offset="0.833" stop-color="#ffbecd"/><stop offset="0.889" stop-color="#ffb7c6"/><stop offset="0.944" stop-color="#ffb1c0"/><stop offset="1.000" stop-color="#ffabb9"/></linearGradient>
<linearGradient id="c39"><stop offset="0.000" stop-color="#acecff"/><stop offset="0.056" stop-color="#b5ecff"/><stop offset="0.111" stop-color="#bdecff"/><stop offset="0.167" stop-color="#c6ecff"/><stop offset="0.222" stop-color="#cfecff"/><stop offset="0.278" stop-color="#d8ecff"/><stop offset="0.333" stop-color="#e2ebff"/><stop offset="0.389" stop-color="#ebebff"/><stop offset="0.444" stop-color="#f5ebff"/><stop offset="0.500" stop-color="#feebff"/><stop offset="0.556" stop-color="#ffe2f6"/><stop offset="0.611" stop-color="#ffdaed"/><stop offset="0.667" stop-color="#ffd2e4"/><stop offset="0.722" stop-color="#ffcadc"/><stop offset="0.778" stop-color="#ffc3d5"/><stop offset="0.833" stop-color="#ffbccd"/><stop offset="0.889" stop-color="#ffb6c7"/><stop offset="0.944" stop-color="#ffb0c0"/><stop offset="1.000" stop-color="#ffaaba"/></linearGradient>
<linearGradient id="c40"><stop offset="0.000" stop-color="#acebff"/><stop offset="0.056" stop-color="#b5ebff"/><stop offset="0.111" stop-color="#bdeaff"/><stop offset="0.167" stop-color="#c6eaff"/><stop offset="0.222" stop-color="#cfeaff"/><stop offset="0.278" stop-color="#d8eaff"/><stop offset="0.333" stop-color="#e2eaff"/><stop offset="0.389" stop-color="#ebe9ff"/><stop offset="0.444" stop-color="#f5e9ff"/><stop offset="0.500" stop-color="#fee9ff"/><stop offset="0.556" stop-color="#ffe1f6"/><stop offset="0.611" stop-color="#ffd8ed"/><stop offset="0.667" stop-color="#ffd0e5"/><stop offset="0.722" stop-color="#ffc9dc"/><stop offset="0.778" stop-color="#ffc2d5"/><stop offset="0.833" stop-color="#ffbbce"/><stop offset="0.889" stop-color="#ffb4c7"/><stop offset="0.944" stop-color="#ffaec0"/><stop offset="1.000" stop-color="#ffa9ba"/></linearGradient>
<linearGradient id="c41"><stop offset="0.000" stop-color="#ace9ff"/><stop offset="0.056" stop-color="#b5e9ff"/><stop offset="0.111" stop-color="#bde9ff"/><stop offset="0.167" stop-color="#c6e8ff"/><stop offset="0.222" stop-color="#cfe8ff"/><stop offset="0.278" stop-color="#d8e8ff"/><stop offset="0.333" stop-color="#e2e8ff"/><stop offset="0.389" stop-color="#ebe8ff"/><stop offset="0.444" stop-color="#f4e7ff"/><stop offset="0.500" stop-color="#fee7ff"/><stop offset="0.556" stop-color="#ffdff6"/><stop offset="0.611" stop-color="#ffd7ed"/><stop offset="0.667" stop-color="#ffcfe5"/><stop offset="0.722" stop-color="#ffc7dd"/><stop offset="0.778" stop-color="#ffc0d5"/><stop offset="0.833" stop-color="#ffbace"/><stop offset="0.889" stop-color="#ffb3c7"/><stop offset="0.944" stop-color="#ffadc0"/><stop offset="1.000" stop-color="#ffa7ba"/></linearGradient>
<linearGradient id="c42"><stop offset="0.000" stop-color="#ace7ff"/><stop offset="0.056" stop-color="#b5e7ff"/><stop offset="0.111" stop-color="#bde7ff"/><stop offset="0.167" stop-color="#c6e7ff"/><stop offset="0.222" stop-color="#cfe6ff"/><stop offset="0.278" stop-color="#d8e6ff"/><stop offset="0.333" stop-color="#e1e6ff"/><stop offset="0.389" stop-color="#ebe6ff"/><stop offset="0.444" stop-color="#f4e5ff"/><stop offset="0.500" stop-color="#fee5ff"/><stop offset="0.556" stop-color="#ffddf6"/><stop offset="0.611" stop-color="#ffd5ed"/><stop offset="0.667" stop-color="#ffcde5"/><stop offset="0.722" stop-color="#ffc6dd"/><stop offset="0.778" stop-color="#ffbfd5"/><stop offset="0.833" stop-color="#ffb8ce"/><stop offset="0.889" stop-color="#ffb2c7"/><stop offset="0.944" stop-color="#ffacc1"/><stop offset="1.000" stop-color="#ffa6ba"/></linearGradient>
<linearGradient id="c43"><stop offset="0.000" stop-color="#ace5ff"/><stop offset="0.056" stop-color="#b5e5ff"/><stop offset="0.111" stop-color="#bee5ff"/><stop offset="0.167" stop-color="#c6e5ff"/><stop offset="0.222" stop-color="#cfe5ff"/><stop offset="0.278" stop-color="#d8e4ff"/><stop offset="0.333" stop-color="#e1e4ff"/><stop offset="0.389" stop-color="#ebe4ff"/><stop offset="0.444" stop-color="#f4e4ff"/><stop offset="0.500" stop-color="#fee3ff"/><stop offset="0.556" stop-color="#ffdcf7"/><stop offset="0.611" stop-color="#ffd3ee"/><stop offset="0.667" stop-color="#ffcce5"/><stop offset="0.722" stop-color="#ffc4dd"/><stop offset="0.778" stop-color="#ffbdd6"/><stop offset="0.833" stop-color="#ffb7ce"/><stop offset="0.889" stop-color="#ffb0c7"/><stop offset="0.944" stop-color="#ffaac1"/><stop offset="1.000" stop-color="#ffa5bb"/></linearGradient>
<linearGradient id="c44"><stop offset="0.000" stop-color="#ace4ff"/><stop offset="0.056" stop-color="#b5e3ff"/><stop offset="0.111" stop-color="#bee3ff"/><stop offset="0.167" stop-color="#c6e3ff"/><stop offset="0.222" stop-color="#cfe3ff"/><stop offset="0.278" stop-color="#d8e3ff"/><stop offset="0.333" stop-color="#e1e2ff"/><stop offset="0.389" stop-color="#ebe2ff"/><stop offset="0.444" stop-color="#f4e2ff"/><stop offset="0.500" stop-color="#fee2ff"/><stop offset="0.556" stop-color="#ffdaf7"/><stop offset="0.611" stop-color="#ffd2ee"/><stop offset="0.667" stop-color="#ffcae5"/><stop offset="0.722" stop-color="#ffc3dd"/><stop offset="0.778" stop-color="#ffbcd6"/><stop offset="0.833" stop-color="#ffb5cf"/><stop offset="0.889" stop-color="#ffafc8"/><stop offset="0.944" stop-color="#ffa9c1"/><stop offset="1.000" stop-color="#ffa4bb"/></linearGradient>
<linearGradient id="c45"><stop offset="0.000" stop-color="#ade2ff"/><stop offset="0.056" stop-color="#b5e2ff"/><stop offset="0.111" stop-color="#bee1ff"/><stop offset="0.167" stop-color="#c6e1ff"/><stop offset="0.222" stop-color="#cfe1ff"/><stop offset="0.278" stop-color="#d8e1ff"/><stop offset="0.333" stop-color="#e1e0ff"/><stop offset="0.389" stop-color="#ebe0ff"/><stop offset="0.444" stop-color="#f4e0ff"/><stop offset="0.500" stop-color="#fee0ff"/><stop offset="0.556" stop-color="#ffd8f7"/><stop offset="0.611" stop-color="#ffd0ee"/><stop offset="0.667" stop-color="#ffc9e6"/><stop offset="0.722" stop-color="#ffc1de"/><stop offset="0.778" stop-color="#ffbad6"/><stop offset="0.833" stop-color="#ffb4cf"/><stop offset="0.889" stop-color="#ffaec8"/><stop offset="0.944" stop-color="#ffa8c1"/><stop offset="1.000" stop-color="#ffa2bb"/></linearGradient>
<linearGradient id="c46"><stop offset="0.000" stop-color="#ade0ff"/><stop offset="0.056" stop-color="#b5e0ff"/><stop offset="0.111" stop-color="#bee0ff"/><stop offset="0.167" stop-color="#c6dfff"/><stop offset="0.222" stop-color="#cfdfff"/><stop offset="0.278" stop-color="#d8dfff"/><stop offset="0.333" stop-color="#e1dfff"/><stop offset="0.389" stop-color="#ebdeff"/><stop offset="0.444" stop-color="#f4deff"/><stop offset="0.500" stop-color="#fedeff"/><stop offset="0.556" stop-color="#ffd7f7"/><stop offset="0.611" stop-color="#ffcfee"/><stop offset="0.667" stop-color="#ffc7e6"/><stop offset="0.722" stop-color="#ffc0de"/><stop offset="0.778" stop-color="#ffb9d6"/><stop offset="0.833" stop-color="#ffb3cf"/><stop offset="0.889" stop-color="#ffacc8"/><stop offset="0.944" stop-color="#ffa7c2"/><stop offset="1.000" stop-color="#ffa1bb"/></linearGradient>
<linearGradient id="c47"><stop offset="0.000" stop-color="#addfff"/><stop offset="0.056" stop-color="#b5deff"/><stop offset="0.111" stop-color="#bedeff"/><stop offset="0.167" stop-color="#c6deff"/><stop offset="0.222" stop-color="#cfddff"/><stop offset="0.278" stop-color="#d8ddff"/><stop offset="0.333" stop-color="#e1ddff"/><stop offset="0.389" stop-color="#eaddff"/><stop offset="0.444" stop-color="#f4dcff"/><stop offset="0.500" stop-color="#fddcff"/><stop offset="0.556" stop-color="#ffd5f7"/><stop offset="0.611" stop-color="#ffcdee"/><stop offset="0.667" stop-color="#ffc6e6"/><stop offset="0.722" stop-color="#ffbede"/><stop offset="0.778" stop-color="#ffb8d6"/><stop offset="0.833" stop-color="#ffb1cf"/><stop offset="0.889" stop-color="#ffabc8"/><stop offset="0.944" stop-color="#ffa5c2"/><stop offset="1.000" stop-color="#ffa0bc"/></linearGradient>
<linearGradient id="c48"><stop offset="0.000" stop-color="#adddff"/><stop offset="0.056" stop-color="#b5ddff"/><stop offset="0.111" stop-color="#bedcff"/><stop offset="0.167" stop-color="#c6dcff"/><stop offset="0.222" stop-color="#cfdcff"/><stop offset="0.278" stop-color="#d8dbff"/><stop offset="0.333" stop-color="#e1dbff"/><stop offset="0.389" stop-color="#eadbff"/><stop offset="0.444" stop-color="#f4dbff"/><stop offset="0.500" stop-color="#fddaff"/><stop offset="0.556" stop-color="#ffd3f7"/><stop offset="0.611" stop-color="#ffcbee"/><stop offset="0.667" stop-color="#ffc4e6"/><stop offset="0.722" stop-color="#ffbdde"/><stop offset="0.778" stop-color="#ffb6d7"/><stop offset="0.833" stop-color="#ffb0cf"/><stop offset="0.889" stop-color="#ffaac9"/><stop offset="0.944" stop-color="#ffa4c2"/><stop offset="1.000" stop-color="#ff9fbc"/></linearGradient>
<linearGradient id="c49"><stop offset="0.000" stop-color="#addbff"/><stop offset="0.056" stop-color="#b5dbff"/><stop offset="0.111" stop-color="#bedbff"/><stop offset="0.167" stop-color="#c7daff"/><stop offset="0.222" stop-color="#cfdaff"/><stop offset="0.278" stop-color="#d8daff"/><stop offset="0.333" stop-color="#e1d9ff"/><stop offset="0.389" stop-color="#ead9ff"/><stop offset="0.444" stop-color="#f4d9ff"/><stop offset="0.500" stop-color="#fdd8ff"/><stop offset="0.556" stop-color="#ffd2f7"/><stop offset="0.611" stop-color="#ffcaef"/><stop offset="0.667" stop-color="#ffc3e6"/><stop offset="0.722" stop-color="#ffbcde"/><stop offset="0.778" stop-color="#ffb5d7"/><stop offset="0.833" stop-color="#ffafd0"/><stop offset="0.889" stop-color="#ffa9c9"/><stop offset="0.944" stop-color="#ffa3c2"/><stop offset="1.000" stop-color="#ff9dbc"/></linearGradient>
<linearGradient id="c50"><stop offset="0.000" stop-color="#add9ff"/><stop offset="0.056" stop-color="#b5d9ff"/><stop offset="0.111" stop-color="#bed9ff"/><stop offset="0.167" stop-color="#c7d9ff"/><stop offset="0.222" stop-color="#cfd8ff"/><stop offset="0.278" stop-color="#d8d8ff"/><stop offset="0.333" stop-color="#e1d8ff"/><stop offset="0.389" stop-color="#ead7ff"/><stop offset="0.444" stop-color="#f4d7ff"/><stop offset="0.500" stop-color="#fdd7ff"/><stop offset="0.556" stop-color="#ffd0f8"/><stop offset="0.611" stop-color="#ffc8ef"/><stop offset="0.667" stop-color="#ffc1e6"/><stop offset="0.722" stop-color="#ffbadf"/><stop offset="0.778" stop-color="#ffb3d7"/><stop offset="0.833" stop-color="#ffadd0"/><stop offset="0.889" stop-color="#ffa7c9"/><stop offset="0.944" stop-color="#ffa2c3"/><stop offset="1.000" stop-color="#ff9cbc"/></linearGradient>
<linearGradient id="c51"><stop offset="0.000" stop-color="#add8ff"/><stop offset="0.056" stop-color="#b6d7ff"/><stop offset="0.111" stop-color="#bed7ff"/><stop offset="0.167" stop-color="#c7d7ff"/><stop offset="0.222" stop-color="#cfd7ff"/><stop offset="0.278" stop-color="#d8d6ff"/><stop offset="0.333" stop-color="#e1d6ff"/><stop offset="0.389" stop-color="#ead6ff"/><stop offset="0.444" stop-color="#f3d5ff"/><stop offset="0.500" stop-color="#fdd5ff"/><stop offset="0.556" stop-color="#ffcff8"/><stop offset="0.611" stop-color="#ffc7ef"/><stop offset="0.667" stop-color="#ffc0e7"/><stop offset="0.722" stop-color="#ffb9df"/><stop offset="0.778" stop-color="#ffb2d7"/><stop offset="0.833" stop-color="#ffacd0"/><stop offset="0.889" stop-color="#ffa6c9"/><stop offset="0.944" stop-color="#ffa0c3"/><stop offset="1.000" stop-color="#ff9bbd"/></linearGradient>
<linearGradient id="c52"><stop offset="0.000" stop-color="#add6ff"/><stop offset="0.056" stop-color="#b6d6ff"/><stop offset="0.111" stop-color="#bed6ff"/><stop offset="0.167" stop-color="#c7d5ff"/><stop offset="0.222" stop-color="#cfd5ff"/><stop offset="0.278" stop-color="#d8d5ff"/><stop offset="0.333" stop-color="#e1d4ff"/><stop offset="0.389" stop-color="#ead4ff"/><stop offset="0.444" stop-color="#f3d3ff"/><stop offset="0.500" stop-color="#fdd3ff"/><stop offset="0.556" stop-color="#ffcdf8"/><stop offset="0.611" stop-color="#ffc5ef"/><stop offset="0.667" stop-color="#ffbee7"/><stop offset="0.722" stop-color="#ffb7df"/><stop offset="0.778" stop-color="#ffb1d7"/><stop offset="0.833" stop-color="#ffabd0"/><stop offset="0.889" stop-color="#ffa5ca"/><stop offset="0.944" stop-color="#ff9fc3"/><stop offset="1.000" stop-color="#ff9abd"/></linearGradient>
<linearGradient id="c53"><stop offset="0.000" stop-color="#add4ff"/><stop offset="0.056" stop-color="#b6d4ff"/><stop offset="0.111" stop-color="#bed4ff"/><stop offset="0.167" stop-color="#c7d3ff"/><stop offset="0.222" stop-color="#cfd3ff"/><stop offset="0.278" stop-color="#d8d3ff"/><stop offset="0.333" stop-color="#e1d2ff"/><stop offset="0.389" stop-color="#ead2ff"/><stop offset="0.444" stop-color="#f3d2ff"/><stop offset="0.500" stop-color="#fdd1ff"/><stop offset="0.556" stop-color="#ffcbf8"/><stop offset="0.611" stop-color="#ffc4ef"/><stop offset="0.667" stop-color="#ffbde7"/><stop offset="0.722" stop-color="#ffb6df"/><stop offset="0.778" stop-color="#ffafd8"/><stop offset="0.833" stop-color="#ffa9d1"/><stop offset="0.889" stop-color="#ffa3ca"/><stop offset="0.944" stop-color="#ff9ec3"/><stop offset="1.000" stop-color="#ff99bd"/></linearGradient>
<linearGradient id="c54"><stop offset="0.000" stop-color="#aed3ff"/><stop offset="0.056" stop-color="#b6d3ff"/><stop offset="0.111" stop-color="#bed2ff"/><stop offset="0.167" stop-color="#c7d2ff"/><stop offset="0.222" stop-color="#cfd1ff"/><stop offset="0.278" stop-color="#d8d1ff"/><stop offset="0.333" stop-color="#e1d1ff"/><stop offset="0.389" stop-color="#ead0ff"/><stop offset="0.444" stop-color="#f3d0ff"/><stop offset="0.500" stop-color="#fcd0ff"/><stop offset="0.556" stop-color="#ffcaf8"/><stop offset="0.611" stop-color="#ffc2ef"/><stop offset="0.667" stop-color="#ffbbe7"/><stop offset="0.722" stop-color="#ffb4df"/><stop offset="0.778" stop-color="#ffaed8"/><stop offset="0.833" stop-color="#ffa8d1"/><stop offset="0.889" stop-color="#ffa2ca"/><stop offset="0.944" stop-color="#ff9dc4"/><stop offset="1.000" stop-color="#ff97bd"/></linearGradient>
<linearGradient id="c55"><stop offset="0.000" stop-color="#aed1ff"/><stop offset="0.056" stop-color="#b6d1ff"/><stop offset="0.111" stop-color="#bed1ff"/><stop offset="0.167" stop-color="#c7d0ff"/><stop offset="0.222" stop-color="#cfd0ff"/><stop offset="0.278" stop-color="#d8cfff"/><stop offset="0.333" stop-color="#e1cfff"/><stop offset="0.389" stop-color="#eacfff"/><stop offset="0.444" stop-color="#f3ceff"/><stop offset="0.500" stop-color="#fcceff"/><stop offset="0.556" stop-color="#ffc8f8"/><stop offset="0.611" stop-color="#ffc1f0"/><stop offset="0.667" stop-color="#ffbae7"/><stop offset="0.722" stop-color="#ffb3df"/><stop offset="0.778" stop-color="#ffadd8"/><stop offset="0.833" stop-color="#ffa7d1"/><stop offset="0.889" stop-color="#ffa1ca"/><stop offset="0.944" stop-color="#ff9bc4"/><stop offset="1.000" stop-color="#ff96be"/></linearGradient>
<linearGradient id="c56"><stop offset="0.000" stop-color="#aed0ff"/><stop offset="0.056" stop-color="#b6cfff"/><stop offset="0.111" stop-color="#becfff"/><stop offset="0.167" stop-color="#c7cfff"/><stop offset="0.222" stop-color="#cfceff"/><stop offset="0.278" stop-color="#d8ceff"/><stop offset="0.333" stop-color="#e1cdff"/><stop offset="0.389" stop-color="#eacdff"/><stop offset="0.444" stop-color="#f3cdff"/><stop offset="0.500" stop-color="#fcccff"/><stop offset="0.556" stop-color="#ffc7f9"/><stop offset="0.611" stop-color="#ffbff0"/><stop offset="0.667" stop-color="#ffb8e8"/><stop offset="0.722" stop-color="#ffb2e0"/><stop offset="0.778" stop-color="#ffabd8"/><stop offset="0.833" stop-color="#ffa5d1"/><stop offset="0.889" stop-color="#ffa0ca"/><stop offset="0.944" stop-color="#ff9ac4"/><stop offset="1.000" stop-color="#ff95be"/></linearGradient>
<linearGradient id="c57"><stop offset="0.000" stop-color="#aeceff"/><stop offset="0.056" stop-color="#b6ceff"/><stop offset="0.111" stop-color="#becdff"/><stop offset="0.167" stop-color="#c7cdff"/><stop offset="0.222" stop-color="#cfccff"/><stop offset="0.278" stop-color="#d8ccff"/><stop offset="0.333" stop-color="#e1ccff"/><stop offset="0.389" stop-color="#eacbff"/><stop offset="0.444" stop-color="#f3cbff"/><stop offset="0.500" stop-color="#fccaff"/><stop offset="0.556" stop-color="#ffc5f9"/><stop offset="0.611" stop-color="#ffbef0"/><stop offset="0.667" stop-color="#ffb7e8"/><stop offset="0.722" stop-color="#ffb0e0"/><stop offset="0.778" stop-color="#ffaad8"/><stop offset="0.833" stop-color="#ffa4d1"/><stop offset="0.889" stop-color="#ff9ecb"/><stop offset="0.944" stop-color="#ff99c4"/><stop offset="1.000" stop-color="#ff94be"/></linearGradient>
<linearGradient id="c58"><stop offset="0.000" stop-color="#aecdff"/><stop offset="0.056" stop-color="#b6ccff"/><stop offset="0.111" stop-color="#beccff"/><stop offset="0.167" stop-color="#c7cbff"/><stop offset="0.222" stop-color="#cfcbff"/><stop offset="0.278" stop-color="#d8cbff"/><stop offset="0.333" stop-color="#e1caff"/><stop offset="0.389" stop-color="#eacaff"/><stop offset="0.444" stop-color="#f3c9ff"/><stop offset="0.500" stop-color="#fcc9ff"/><stop offset="0.556" stop-color="#ffc4f9"/><stop offset="0.611" stop-color="#ffbcf0"/><stop offset="0.667" stop-color="#ffb6e8"/><stop offset="0.722" stop-color="#ffafe0"/><stop offset="0.778" stop-color="#ffa9d9"/><stop offset="0.833" stop-color="#ffa3d2"/><stop offset="0.889" stop-color="#ff9dcb"/><stop offset="0.944" stop-color="#ff98c4"/><stop offset="1.000" stop-color="#ff93be"/></linearGradient>
<linearGradient id="th" x1="0" x2="0" y1="0" y2="1"><stop offset="0" stop-color="#303030"/><stop offset="0.5" stop-color="#2b2b2b"/><stop offset="0.5" stop-color="#1c1c1c"/><stop offset="1" stop-color="#0c0c0c"/></linearGradient>
<linearGradient id="rh" x1="0" x2="0" y1="0" y2="1"><stop offset="0" stop-color="#2c2c2c"/><stop offset="1" stop-color="#1c1c1c"/></linearGradient></defs>
<rect x="0.00" y="0.00" width="1711.00" height="885.00" fill="#323232"/>
<rect x="0.00" y="491.00" width="1711.00" height="141.00" fill="#000"/>
<text x="19.6" y="66.4" font-size="39.3" fill="#f2f2f2" textLength="171.5" lengthAdjust="spacingAndGlyphs" stroke="#f2f2f2" stroke-width="0.35">Grayscale</text>
<text x="124.5" y="110.2" font-size="29.2" fill="#f2f2f2" textLength="231.0" lengthAdjust="spacingAndGlyphs" stroke="#f2f2f2" stroke-width="0.35">dE Average: 0,75</text>
<text x="635.0" y="54.2" font-size="29.2" fill="#f2f2f2" textLength="261.3" lengthAdjust="spacingAndGlyphs" stroke="#f2f2f2" stroke-width="0.35">Total Gamma: 2,43</text>
<text x="1270.2" y="54.2" font-size="29.2" fill="#f2f2f2" textLength="50.5" lengthAdjust="spacingAndGlyphs" stroke="#f2f2f2" stroke-width="0.35">CCT</text>
<text x="1332.2" y="54.2" font-size="29.2" fill="#f2f2f2" textLength="57.5" lengthAdjust="spacingAndGlyphs" stroke="#f2f2f2" stroke-width="0.35">Avg:</text>
<text x="1398.6" y="54.2" font-size="29.2" fill="#f2f2f2" textLength="70.0" lengthAdjust="spacingAndGlyphs" stroke="#f2f2f2" stroke-width="0.35">6585</text>
<text x="193.2" y="146.4" font-size="14" fill="#d0d0d0" textLength="81.0" lengthAdjust="spacingAndGlyphs">DeltaE 2000</text>
<text x="717.0" y="90.5" font-size="14" fill="#d0d0d0" textLength="85.4" lengthAdjust="spacingAndGlyphs">RGB Balance</text>
<text x="1306.5" y="90.5" font-size="14" fill="#d0d0d0" textLength="112.2" lengthAdjust="spacingAndGlyphs">Gamma Log/Log</text>
<rect x="41.00" y="152.60" width="410.85" height="285.60" fill="#232323"/>
<line x1="95.52" y1="152.60" x2="95.52" y2="438.20" stroke="#8c8c8c" stroke-width="1.5"/>
<line x1="150.34" y1="152.60" x2="150.34" y2="438.20" stroke="#8c8c8c" stroke-width="1.5"/>
<line x1="205.16" y1="152.60" x2="205.16" y2="438.20" stroke="#8c8c8c" stroke-width="1.5"/>
<line x1="259.98" y1="152.60" x2="259.98" y2="438.20" stroke="#8c8c8c" stroke-width="1.5"/>
<line x1="314.80" y1="152.60" x2="314.80" y2="438.20" stroke="#8c8c8c" stroke-width="1.5"/>
<line x1="369.62" y1="152.60" x2="369.62" y2="438.20" stroke="#8c8c8c" stroke-width="1.5"/>
<line x1="424.44" y1="152.60" x2="424.44" y2="438.20" stroke="#8c8c8c" stroke-width="1.5"/>
<rect x="41.00" y="154.80" width="26.45" height="21.00" fill="#000"/>
<rect x="41.50" y="156.00" width="24.35" height="18.00" fill="url(#b100)"/>
<line x1="33.90" y1="152.60" x2="40.50" y2="152.60" stroke="#dcdcdc" stroke-width="1.8"/>
<text x="40.3" y="171.3" font-size="15.5" fill="#dedede" text-anchor="end" textLength="25.5" lengthAdjust="spacingAndGlyphs">100</text>
<rect x="41.00" y="180.76" width="14.72" height="21.00" fill="#000"/>
<rect x="41.50" y="181.96" width="12.62" height="18.00" fill="url(#b90)"/>
<line x1="33.90" y1="178.56" x2="40.50" y2="178.56" stroke="#dcdcdc" stroke-width="1.8"/>
<text x="40.3" y="197.3" font-size="15.5" fill="#dedede" text-anchor="end" textLength="17.0" lengthAdjust="spacingAndGlyphs">90</text>
<rect x="41.00" y="206.73" width="17.72" height="21.00" fill="#000"/>
<rect x="41.50" y="207.93" width="15.62" height="18.00" fill="url(#b80)"/>
<line x1="33.90" y1="204.53" x2="40.50" y2="204.53" stroke="#dcdcdc" stroke-width="1.8"/>
<text x="40.3" y="223.2" font-size="15.5" fill="#dedede" text-anchor="end" textLength="17.0" lengthAdjust="spacingAndGlyphs">80</text>
<rect x="41.00" y="232.69" width="22.91" height="21.00" fill="#000"/>
<rect x="41.50" y="233.89" width="20.80" height="18.00" fill="url(#b70)"/>
<line x1="33.90" y1="230.49" x2="40.50" y2="230.49" stroke="#dcdcdc" stroke-width="1.8"/>
<text x="40.3" y="249.2" font-size="15.5" fill="#dedede" text-anchor="end" textLength="17.0" lengthAdjust="spacingAndGlyphs">70</text>
<rect x="41.00" y="258.65" width="20.72" height="21.00" fill="#000"/>
<rect x="41.50" y="259.85" width="18.62" height="18.00" fill="url(#b60)"/>
<line x1="33.90" y1="256.45" x2="40.50" y2="256.45" stroke="#dcdcdc" stroke-width="1.8"/>
<text x="40.3" y="275.2" font-size="15.5" fill="#dedede" text-anchor="end" textLength="17.0" lengthAdjust="spacingAndGlyphs">60</text>
<rect x="41.00" y="284.62" width="17.17" height="21.00" fill="#000"/>
<rect x="41.50" y="285.82" width="15.07" height="18.00" fill="url(#b50)"/>
<line x1="33.90" y1="282.42" x2="40.50" y2="282.42" stroke="#dcdcdc" stroke-width="1.8"/>
<text x="40.3" y="301.1" font-size="15.5" fill="#dedede" text-anchor="end" textLength="17.0" lengthAdjust="spacingAndGlyphs">50</text>
<rect x="41.00" y="310.58" width="11.17" height="21.00" fill="#000"/>
<rect x="41.50" y="311.78" width="9.07" height="18.00" fill="url(#b40)"/>
<line x1="33.90" y1="308.38" x2="40.50" y2="308.38" stroke="#dcdcdc" stroke-width="1.8"/>
<text x="40.3" y="327.1" font-size="15.5" fill="#dedede" text-anchor="end" textLength="17.0" lengthAdjust="spacingAndGlyphs">40</text>
<rect x="41.00" y="336.55" width="25.09" height="21.00" fill="#000"/>
<rect x="41.50" y="337.75" width="22.99" height="18.00" fill="url(#b30)"/>
<line x1="33.90" y1="334.35" x2="40.50" y2="334.35" stroke="#dcdcdc" stroke-width="1.8"/>
<text x="40.3" y="353.0" font-size="15.5" fill="#dedede" text-anchor="end" textLength="17.0" lengthAdjust="spacingAndGlyphs">30</text>
<rect x="41.00" y="362.51" width="15.26" height="21.00" fill="#000"/>
<rect x="41.50" y="363.71" width="13.16" height="18.00" fill="url(#b20)"/>
<line x1="33.90" y1="360.31" x2="40.50" y2="360.31" stroke="#dcdcdc" stroke-width="1.8"/>
<text x="40.3" y="379.0" font-size="15.5" fill="#dedede" text-anchor="end" textLength="17.0" lengthAdjust="spacingAndGlyphs">20</text>
<rect x="41.00" y="388.47" width="31.64" height="21.00" fill="#000"/>
<rect x="41.50" y="389.67" width="29.54" height="18.00" fill="url(#b10)"/>
<line x1="33.90" y1="386.27" x2="40.50" y2="386.27" stroke="#dcdcdc" stroke-width="1.8"/>
<text x="40.3" y="405.0" font-size="15.5" fill="#dedede" text-anchor="end" textLength="17.0" lengthAdjust="spacingAndGlyphs">10</text>
<rect x="41.00" y="414.44" width="20.45" height="21.00" fill="#000"/>
<rect x="41.50" y="415.64" width="18.35" height="18.00" fill="url(#b0)"/>
<line x1="33.90" y1="412.24" x2="40.50" y2="412.24" stroke="#dcdcdc" stroke-width="1.8"/>
<text x="40.3" y="430.9" font-size="15.5" fill="#dedede" text-anchor="end" textLength="8.5" lengthAdjust="spacingAndGlyphs">0</text>
<line x1="33.90" y1="438.20" x2="40.50" y2="438.20" stroke="#dcdcdc" stroke-width="1.8"/>
<rect x="41.00" y="152.60" width="410.85" height="285.60" fill="none" stroke="#9a9a9a" stroke-width="1.5"/>
<line x1="67.40" y1="152.60" x2="67.40" y2="438.20" stroke="#008000" stroke-width="1.6"/>
<line x1="122.30" y1="152.60" x2="122.30" y2="438.20" stroke="#ffff00" stroke-width="1.55"/>
<line x1="314.75" y1="152.60" x2="314.75" y2="438.20" stroke="#ff0000" stroke-width="1.55"/>
<line x1="40.70" y1="438.20" x2="40.70" y2="443.70" stroke="#dcdcdc" stroke-width="1.5"/>
<text x="40.2" y="459.8" font-size="15.5" fill="#dedede" text-anchor="middle" textLength="8.5" lengthAdjust="spacingAndGlyphs">0</text>
<line x1="95.52" y1="438.20" x2="95.52" y2="443.70" stroke="#dcdcdc" stroke-width="1.5"/>
<text x="95.0" y="459.8" font-size="15.5" fill="#dedede" text-anchor="middle" textLength="8.5" lengthAdjust="spacingAndGlyphs">2</text>
<line x1="150.34" y1="438.20" x2="150.34" y2="443.70" stroke="#dcdcdc" stroke-width="1.5"/>
<text x="149.8" y="459.8" font-size="15.5" fill="#dedede" text-anchor="middle" textLength="8.5" lengthAdjust="spacingAndGlyphs">4</text>
<line x1="205.16" y1="438.20" x2="205.16" y2="443.70" stroke="#dcdcdc" stroke-width="1.5"/>
<text x="204.7" y="459.8" font-size="15.5" fill="#dedede" text-anchor="middle" textLength="8.5" lengthAdjust="spacingAndGlyphs">6</text>
<line x1="259.98" y1="438.20" x2="259.98" y2="443.70" stroke="#dcdcdc" stroke-width="1.5"/>
<text x="259.5" y="459.8" font-size="15.5" fill="#dedede" text-anchor="middle" textLength="8.5" lengthAdjust="spacingAndGlyphs">8</text>
<line x1="314.80" y1="438.20" x2="314.80" y2="443.70" stroke="#dcdcdc" stroke-width="1.5"/>
<text x="314.3" y="459.8" font-size="15.5" fill="#dedede" text-anchor="middle" textLength="17.0" lengthAdjust="spacingAndGlyphs">10</text>
<line x1="369.62" y1="438.20" x2="369.62" y2="443.70" stroke="#dcdcdc" stroke-width="1.5"/>
<text x="369.1" y="459.8" font-size="15.5" fill="#dedede" text-anchor="middle" textLength="17.0" lengthAdjust="spacingAndGlyphs">12</text>
<line x1="424.44" y1="438.20" x2="424.44" y2="443.70" stroke="#dcdcdc" stroke-width="1.5"/>
<text x="423.9" y="459.8" font-size="15.5" fill="#dedede" text-anchor="middle" textLength="17.0" lengthAdjust="spacingAndGlyphs">14</text>
<rect x="505.90" y="96.70" width="534.60" height="341.60" fill="#232323"/>
<line x1="505.90" y1="131.20" x2="1040.50" y2="131.20" stroke="#8c8c8c" stroke-width="1.5"/>
<line x1="499.90" y1="131.20" x2="505.90" y2="131.20" stroke="#dcdcdc" stroke-width="1.5"/>
<text x="499.6" y="136.5" font-size="15.5" fill="#dedede" text-anchor="end" textLength="17.0" lengthAdjust="spacingAndGlyphs">40</text>
<line x1="505.90" y1="199.90" x2="1040.50" y2="199.90" stroke="#8c8c8c" stroke-width="1.5"/>
<line x1="499.90" y1="199.90" x2="505.90" y2="199.90" stroke="#dcdcdc" stroke-width="1.5"/>
<text x="499.6" y="205.2" font-size="15.5" fill="#dedede" text-anchor="end" textLength="17.0" lengthAdjust="spacingAndGlyphs">20</text>
<line x1="505.90" y1="268.60" x2="1040.50" y2="268.60" stroke="#8c8c8c" stroke-width="1.5"/>
<line x1="499.90" y1="268.60" x2="505.90" y2="268.60" stroke="#dcdcdc" stroke-width="1.5"/>
<text x="499.6" y="273.9" font-size="15.5" fill="#dedede" text-anchor="end" textLength="8.5" lengthAdjust="spacingAndGlyphs">0</text>
<line x1="505.90" y1="335.90" x2="1040.50" y2="335.90" stroke="#8c8c8c" stroke-width="1.5"/>
<line x1="499.90" y1="335.90" x2="505.90" y2="335.90" stroke="#dcdcdc" stroke-width="1.5"/>
<text x="499.6" y="341.2" font-size="15.5" fill="#dedede" text-anchor="end" textLength="22.6" lengthAdjust="spacingAndGlyphs">-20</text>
<line x1="505.90" y1="404.90" x2="1040.50" y2="404.90" stroke="#8c8c8c" stroke-width="1.5"/>
<line x1="499.90" y1="404.90" x2="505.90" y2="404.90" stroke="#dcdcdc" stroke-width="1.5"/>
<text x="499.6" y="410.2" font-size="15.5" fill="#dedede" text-anchor="end" textLength="22.6" lengthAdjust="spacingAndGlyphs">-40</text>
<rect x="505.90" y="96.70" width="534.60" height="341.60" fill="none" stroke="#9a9a9a" stroke-width="1.5"/>
<line x1="505.90" y1="438.30" x2="505.90" y2="443.80" stroke="#dcdcdc" stroke-width="1.5"/>
<text x="505.3" y="459.8" font-size="15.5" fill="#dedede" text-anchor="middle" textLength="8.5" lengthAdjust="spacingAndGlyphs">0</text>
<line x1="559.36" y1="438.30" x2="559.36" y2="443.80" stroke="#dcdcdc" stroke-width="1.5"/>
<text x="558.8" y="459.8" font-size="15.5" fill="#dedede" text-anchor="middle" textLength="17.0" lengthAdjust="spacingAndGlyphs">10</text>
<line x1="612.82" y1="438.30" x2="612.82" y2="443.80" stroke="#dcdcdc" stroke-width="1.5"/>
<text x="612.2" y="459.8" font-size="15.5" fill="#dedede" text-anchor="middle" textLength="17.0" lengthAdjust="spacingAndGlyphs">20</text>
<line x1="666.28" y1="438.30" x2="666.28" y2="443.80" stroke="#dcdcdc" stroke-width="1.5"/>
<text x="665.7" y="459.8" font-size="15.5" fill="#dedede" text-anchor="middle" textLength="17.0" lengthAdjust="spacingAndGlyphs">30</text>
<line x1="719.74" y1="438.30" x2="719.74" y2="443.80" stroke="#dcdcdc" stroke-width="1.5"/>
<text x="719.1" y="459.8" font-size="15.5" fill="#dedede" text-anchor="middle" textLength="17.0" lengthAdjust="spacingAndGlyphs">40</text>
<line x1="773.20" y1="438.30" x2="773.20" y2="443.80" stroke="#dcdcdc" stroke-width="1.5"/>
<text x="772.6" y="459.8" font-size="15.5" fill="#dedede" text-anchor="middle" textLength="17.0" lengthAdjust="spacingAndGlyphs">50</text>
<line x1="826.66" y1="438.30" x2="826.66" y2="443.80" stroke="#dcdcdc" stroke-width="1.5"/>
<text x="826.1" y="459.8" font-size="15.5" fill="#dedede" text-anchor="middle" textLength="17.0" lengthAdjust="spacingAndGlyphs">60</text>
<line x1="880.12" y1="438.30" x2="880.12" y2="443.80" stroke="#dcdcdc" stroke-width="1.5"/>
<text x="879.5" y="459.8" font-size="15.5" fill="#dedede" text-anchor="middle" textLength="17.0" lengthAdjust="spacingAndGlyphs">70</text>
<line x1="933.58" y1="438.30" x2="933.58" y2="443.80" stroke="#dcdcdc" stroke-width="1.5"/>
<text x="933.0" y="459.8" font-size="15.5" fill="#dedede" text-anchor="middle" textLength="17.0" lengthAdjust="spacingAndGlyphs">80</text>
<line x1="987.04" y1="438.30" x2="987.04" y2="443.80" stroke="#dcdcdc" stroke-width="1.5"/>
<text x="986.4" y="459.8" font-size="15.5" fill="#dedede" text-anchor="middle" textLength="17.0" lengthAdjust="spacingAndGlyphs">90</text>
<line x1="1040.50" y1="438.30" x2="1040.50" y2="443.80" stroke="#dcdcdc" stroke-width="1.5"/>
<text x="1039.9" y="459.8" font-size="15.5" fill="#dedede" text-anchor="middle" textLength="25.5" lengthAdjust="spacingAndGlyphs">100</text>
<clipPath id="rc"><rect x="505.90" y="96.70" width="535.40" height="341.60"/></clipPath>
<polyline points="505.9,262.9 559.4,276.6 612.8,276.2 666.3,276.6 719.7,268.7 773.2,272.8 826.7,274.9 880.1,267.0 933.6,270.4 987.0,270.4 1040.5,271.4" fill="none" stroke="#ff0000" stroke-width="2.85" stroke-linejoin="round" clip-path="url(#rc)"/>
<polyline points="505.9,260.1 559.4,276.9 612.8,275.4 666.3,277.6 719.7,270.1 773.2,270.1 826.7,271.1 880.1,268.0 933.6,267.5 987.0,267.5 1040.5,266.1" fill="none" stroke="#008000" stroke-width="2.85" stroke-linejoin="round" clip-path="url(#rc)"/>
<polyline points="505.9,256.0 559.4,270.4 612.8,274.2 666.3,279.7 719.7,268.2 773.2,269.4 826.7,270.4 880.1,264.0 933.6,264.7 987.0,264.7 1040.5,260.5" fill="none" stroke="#0000ff" stroke-width="2.85" stroke-linejoin="round" clip-path="url(#rc)"/>
<rect x="1107.60" y="96.50" width="535.40" height="341.90" fill="#232323"/>
<line x1="1107.60" y1="134.90" x2="1643.00" y2="134.90" stroke="#8c8c8c" stroke-width="1.5"/>
<line x1="1101.60" y1="134.90" x2="1107.60" y2="134.90" stroke="#dcdcdc" stroke-width="1.5"/>
<text x="1101.3" y="140.2" font-size="15.5" fill="#dedede" text-anchor="end" textLength="20.4" lengthAdjust="spacingAndGlyphs">2,4</text>
<line x1="1107.60" y1="177.70" x2="1643.00" y2="177.70" stroke="#8c8c8c" stroke-width="1.5"/>
<line x1="1101.60" y1="177.70" x2="1107.60" y2="177.70" stroke="#dcdcdc" stroke-width="1.5"/>
<text x="1101.3" y="183.0" font-size="15.5" fill="#dedede" text-anchor="end" textLength="20.4" lengthAdjust="spacingAndGlyphs">2,2</text>
<line x1="1107.60" y1="220.50" x2="1643.00" y2="220.50" stroke="#8c8c8c" stroke-width="1.5"/>
<line x1="1101.60" y1="220.50" x2="1107.60" y2="220.50" stroke="#dcdcdc" stroke-width="1.5"/>
<text x="1101.3" y="225.8" font-size="15.5" fill="#dedede" text-anchor="end" textLength="8.5" lengthAdjust="spacingAndGlyphs">2</text>
<line x1="1107.60" y1="263.30" x2="1643.00" y2="263.30" stroke="#8c8c8c" stroke-width="1.5"/>
<line x1="1101.60" y1="263.30" x2="1107.60" y2="263.30" stroke="#dcdcdc" stroke-width="1.5"/>
<text x="1101.3" y="268.6" font-size="15.5" fill="#dedede" text-anchor="end" textLength="20.4" lengthAdjust="spacingAndGlyphs">1,8</text>
<line x1="1107.60" y1="306.10" x2="1643.00" y2="306.10" stroke="#8c8c8c" stroke-width="1.5"/>
<line x1="1101.60" y1="306.10" x2="1107.60" y2="306.10" stroke="#dcdcdc" stroke-width="1.5"/>
<text x="1101.3" y="311.4" font-size="15.5" fill="#dedede" text-anchor="end" textLength="20.4" lengthAdjust="spacingAndGlyphs">1,6</text>
<line x1="1107.60" y1="348.90" x2="1643.00" y2="348.90" stroke="#8c8c8c" stroke-width="1.5"/>
<line x1="1101.60" y1="348.90" x2="1107.60" y2="348.90" stroke="#dcdcdc" stroke-width="1.5"/>
<text x="1101.3" y="354.2" font-size="15.5" fill="#dedede" text-anchor="end" textLength="20.4" lengthAdjust="spacingAndGlyphs">1,4</text>
<line x1="1107.60" y1="391.70" x2="1643.00" y2="391.70" stroke="#8c8c8c" stroke-width="1.5"/>
<line x1="1101.60" y1="391.70" x2="1107.60" y2="391.70" stroke="#dcdcdc" stroke-width="1.5"/>
<text x="1101.3" y="397.0" font-size="15.5" fill="#dedede" text-anchor="end" textLength="20.4" lengthAdjust="spacingAndGlyphs">1,2</text>
<line x1="1107.60" y1="434.50" x2="1643.00" y2="434.50" stroke="#8c8c8c" stroke-width="1.5"/>
<line x1="1101.60" y1="434.50" x2="1107.60" y2="434.50" stroke="#dcdcdc" stroke-width="1.5"/>
<text x="1101.3" y="439.8" font-size="15.5" fill="#dedede" text-anchor="end" textLength="8.5" lengthAdjust="spacingAndGlyphs">1</text>
<rect x="1107.60" y="96.50" width="535.40" height="341.90" fill="none" stroke="#9a9a9a" stroke-width="1.5"/>
<line x1="1107.60" y1="438.40" x2="1107.60" y2="443.90" stroke="#dcdcdc" stroke-width="1.5"/>
<text x="1107.3" y="459.8" font-size="15.5" fill="#dedede" text-anchor="middle" textLength="8.5" lengthAdjust="spacingAndGlyphs">0</text>
<line x1="1161.14" y1="438.40" x2="1161.14" y2="443.90" stroke="#dcdcdc" stroke-width="1.5"/>
<text x="1160.8" y="459.8" font-size="15.5" fill="#dedede" text-anchor="middle" textLength="17.0" lengthAdjust="spacingAndGlyphs">10</text>
<line x1="1214.68" y1="438.40" x2="1214.68" y2="443.90" stroke="#dcdcdc" stroke-width="1.5"/>
<text x="1214.4" y="459.8" font-size="15.5" fill="#dedede" text-anchor="middle" textLength="17.0" lengthAdjust="spacingAndGlyphs">20</text>
<line x1="1268.22" y1="438.40" x2="1268.22" y2="443.90" stroke="#dcdcdc" stroke-width="1.5"/>
<text x="1267.9" y="459.8" font-size="15.5" fill="#dedede" text-anchor="middle" textLength="17.0" lengthAdjust="spacingAndGlyphs">30</text>
<line x1="1321.76" y1="438.40" x2="1321.76" y2="443.90" stroke="#dcdcdc" stroke-width="1.5"/>
<text x="1321.5" y="459.8" font-size="15.5" fill="#dedede" text-anchor="middle" textLength="17.0" lengthAdjust="spacingAndGlyphs">40</text>
<line x1="1375.30" y1="438.40" x2="1375.30" y2="443.90" stroke="#dcdcdc" stroke-width="1.5"/>
<text x="1375.0" y="459.8" font-size="15.5" fill="#dedede" text-anchor="middle" textLength="17.0" lengthAdjust="spacingAndGlyphs">50</text>
<line x1="1428.84" y1="438.40" x2="1428.84" y2="443.90" stroke="#dcdcdc" stroke-width="1.5"/>
<text x="1428.5" y="459.8" font-size="15.5" fill="#dedede" text-anchor="middle" textLength="17.0" lengthAdjust="spacingAndGlyphs">60</text>
<line x1="1482.38" y1="438.40" x2="1482.38" y2="443.90" stroke="#dcdcdc" stroke-width="1.5"/>
<text x="1482.1" y="459.8" font-size="15.5" fill="#dedede" text-anchor="middle" textLength="17.0" lengthAdjust="spacingAndGlyphs">70</text>
<line x1="1535.92" y1="438.40" x2="1535.92" y2="443.90" stroke="#dcdcdc" stroke-width="1.5"/>
<text x="1535.6" y="459.8" font-size="15.5" fill="#dedede" text-anchor="middle" textLength="17.0" lengthAdjust="spacingAndGlyphs">80</text>
<line x1="1589.46" y1="438.40" x2="1589.46" y2="443.90" stroke="#dcdcdc" stroke-width="1.5"/>
<text x="1589.2" y="459.8" font-size="15.5" fill="#dedede" text-anchor="middle" textLength="17.0" lengthAdjust="spacingAndGlyphs">90</text>
<line x1="1643.00" y1="438.40" x2="1643.00" y2="443.90" stroke="#dcdcdc" stroke-width="1.5"/>
<text x="1642.7" y="459.8" font-size="15.5" fill="#dedede" text-anchor="middle" textLength="25.5" lengthAdjust="spacingAndGlyphs">100</text>
<polyline points="1107.6,373.5 1161.1,207.2 1214.7,185.4 1268.2,169.9 1321.8,172.8 1375.3,166.4 1428.8,159.7 1482.4,162.5 1535.9,162.9 1589.5,153.9 1643.0,160.6" fill="none" stroke="#8a8a8a" stroke-width="2.7" stroke-linejoin="round"/>
<polyline points="1107.6,373.5 1112.4,307.8 1118.5,289.6 1122.1,280.0 1127.4,263.3 1134.4,250.0 1139.7,241.8 1145.1,234.5 1150.4,228.4 1155.8,223.3 1161.1,218.9 1171.8,211.6 1182.6,205.8 1193.3,201.1 1204.0,197.2 1214.7,193.9 1230.7,189.8 1246.8,186.4 1268.2,182.7 1295.0,179.0 1321.8,176.0 1348.5,173.6 1375.3,171.6 1428.8,168.4 1482.4,165.9 1535.9,163.9 1589.5,162.3 1643.0,161.0" fill="none" stroke="#ffff00" stroke-width="3" stroke-linejoin="round"/>
<line x1="247.00" y1="512.50" x2="1566.00" y2="512.50" stroke="#1c1c1c" stroke-width="1"/>
<rect x="269.00" y="517.00" width="102.00" height="38.00" fill="#ffffff"/>
<rect x="270.00" y="518.00" width="100.00" height="36.00" fill="#040506"/>
<rect x="270.5" y="518.5" width="99" height="35" fill="none" stroke="#000" stroke-opacity="0.22" stroke-width="1"/>
<rect x="269.00" y="565.00" width="102.00" height="37.00" fill="#ffffff"/>
<rect x="270.00" y="566.00" width="100.00" height="35.00" fill="rgb(0,0,0)"/>
<rect x="270.5" y="566.5" width="99" height="34" fill="none" stroke="#000" stroke-opacity="0.22" stroke-width="1"/>
<text x="320.8" y="616.0" font-size="13" fill="#ffffff" text-anchor="middle" textLength="7.0" lengthAdjust="spacingAndGlyphs">0</text>
<rect x="387.00" y="517.00" width="102.00" height="38.00" fill="#ffffff"/>
<rect x="388.00" y="518.00" width="100.00" height="36.00" fill="#191919"/>
<rect x="388.5" y="518.5" width="99" height="35" fill="none" stroke="#000" stroke-opacity="0.22" stroke-width="1"/>
<rect x="387.00" y="565.00" width="102.00" height="37.00" fill="#ffffff"/>
<rect x="388.00" y="566.00" width="100.00" height="35.00" fill="rgb(26,26,26)"/>
<rect x="388.5" y="566.5" width="99" height="34" fill="none" stroke="#000" stroke-opacity="0.22" stroke-width="1"/>
<text x="438.8" y="616.0" font-size="13" fill="#ffffff" text-anchor="middle" textLength="14.0" lengthAdjust="spacingAndGlyphs">10</text>
<rect x="506.00" y="517.00" width="102.00" height="38.00" fill="#ffffff"/>
<rect x="507.00" y="518.00" width="100.00" height="36.00" fill="#323232"/>
<rect x="507.5" y="518.5" width="99" height="35" fill="none" stroke="#000" stroke-opacity="0.22" stroke-width="1"/>
<rect x="506.00" y="565.00" width="102.00" height="37.00" fill="#ffffff"/>
<rect x="507.00" y="566.00" width="100.00" height="35.00" fill="rgb(51,51,51)"/>
<rect x="507.5" y="566.5" width="99" height="34" fill="none" stroke="#000" stroke-opacity="0.22" stroke-width="1"/>
<text x="557.8" y="616.0" font-size="13" fill="#ffffff" text-anchor="middle" textLength="14.0" lengthAdjust="spacingAndGlyphs">20</text>
<rect x="624.00" y="517.00" width="102.00" height="38.00" fill="#ffffff"/>
<rect x="625.00" y="518.00" width="100.00" height="36.00" fill="#4a4a4a"/>
<rect x="625.5" y="518.5" width="99" height="35" fill="none" stroke="#000" stroke-opacity="0.22" stroke-width="1"/>
<rect x="624.00" y="565.00" width="102.00" height="37.00" fill="#ffffff"/>
<rect x="625.00" y="566.00" width="100.00" height="35.00" fill="rgb(76,76,76)"/>
<rect x="625.5" y="566.5" width="99" height="34" fill="none" stroke="#000" stroke-opacity="0.22" stroke-width="1"/>
<text x="675.8" y="616.0" font-size="13" fill="#ffffff" text-anchor="middle" textLength="14.0" lengthAdjust="spacingAndGlyphs">30</text>
<rect x="743.00" y="517.00" width="102.00" height="38.00" fill="#ffffff"/>
<rect x="744.00" y="518.00" width="100.00" height="36.00" fill="#656565"/>
<rect x="744.5" y="518.5" width="99" height="35" fill="none" stroke="#000" stroke-opacity="0.22" stroke-width="1"/>
<rect x="743.00" y="565.00" width="102.00" height="37.00" fill="#ffffff"/>
<rect x="744.00" y="566.00" width="100.00" height="35.00" fill="rgb(102,102,102)"/>
<rect x="744.5" y="566.5" width="99" height="34" fill="none" stroke="#000" stroke-opacity="0.22" stroke-width="1"/>
<text x="794.8" y="616.0" font-size="13" fill="#ffffff" text-anchor="middle" textLength="14.0" lengthAdjust="spacingAndGlyphs">40</text>
<rect x="862.00" y="517.00" width="102.00" height="38.00" fill="#ffffff"/>
<rect x="863.00" y="518.00" width="100.00" height="36.00" fill="#7f8180"/>
<rect x="863.5" y="518.5" width="99" height="35" fill="none" stroke="#000" stroke-opacity="0.22" stroke-width="1"/>
<rect x="862.00" y="565.00" width="102.00" height="37.00" fill="#ffffff"/>
<rect x="863.00" y="566.00" width="100.00" height="35.00" fill="rgb(128,128,128)"/>
<rect x="863.5" y="566.5" width="99" height="34" fill="none" stroke="#000" stroke-opacity="0.22" stroke-width="1"/>
<text x="913.8" y="616.0" font-size="13" fill="#ffffff" text-anchor="middle" textLength="14.0" lengthAdjust="spacingAndGlyphs">50</text>
<rect x="980.00" y="517.00" width="102.00" height="38.00" fill="#ffffff"/>
<rect x="981.00" y="518.00" width="100.00" height="36.00" fill="#999a99"/>
<rect x="981.5" y="518.5" width="99" height="35" fill="none" stroke="#000" stroke-opacity="0.22" stroke-width="1"/>
<rect x="980.00" y="565.00" width="102.00" height="37.00" fill="#ffffff"/>
<rect x="981.00" y="566.00" width="100.00" height="35.00" fill="rgb(153,153,153)"/>
<rect x="981.5" y="566.5" width="99" height="34" fill="none" stroke="#000" stroke-opacity="0.22" stroke-width="1"/>
<text x="1031.8" y="616.0" font-size="13" fill="#ffffff" text-anchor="middle" textLength="14.0" lengthAdjust="spacingAndGlyphs">60</text>
<rect x="1099.00" y="517.00" width="102.00" height="38.00" fill="#ffffff"/>
<rect x="1100.00" y="518.00" width="100.00" height="36.00" fill="#b2b3b3"/>
<rect x="1100.5" y="518.5" width="99" height="35" fill="none" stroke="#000" stroke-opacity="0.22" stroke-width="1"/>
<rect x="1099.00" y="565.00" width="102.00" height="37.00" fill="#ffffff"/>
<rect x="1100.00" y="566.00" width="100.00" height="35.00" fill="rgb(178,178,178)"/>
<rect x="1100.5" y="566.5" width="99" height="34" fill="none" stroke="#000" stroke-opacity="0.22" stroke-width="1"/>
<text x="1150.8" y="616.0" font-size="13" fill="#ffffff" text-anchor="middle" textLength="14.0" lengthAdjust="spacingAndGlyphs">70</text>
<rect x="1217.00" y="517.00" width="102.00" height="38.00" fill="#ffffff"/>
<rect x="1218.00" y="518.00" width="100.00" height="36.00" fill="#cbcccd"/>
<rect x="1218.5" y="518.5" width="99" height="35" fill="none" stroke="#000" stroke-opacity="0.22" stroke-width="1"/>
<rect x="1217.00" y="565.00" width="102.00" height="37.00" fill="#ffffff"/>
<rect x="1218.00" y="566.00" width="100.00" height="35.00" fill="rgb(204,204,204)"/>
<rect x="1218.5" y="566.5" width="99" height="34" fill="none" stroke="#000" stroke-opacity="0.22" stroke-width="1"/>
<text x="1268.8" y="616.0" font-size="13" fill="#ffffff" text-anchor="middle" textLength="14.0" lengthAdjust="spacingAndGlyphs">80</text>
<rect x="1336.00" y="517.00" width="102.00" height="38.00" fill="#ffffff"/>
<rect x="1337.00" y="518.00" width="100.00" height="36.00" fill="#e5e6e7"/>
<rect x="1337.5" y="518.5" width="99" height="35" fill="none" stroke="#000" stroke-opacity="0.22" stroke-width="1"/>
<rect x="1336.00" y="565.00" width="102.00" height="37.00" fill="#ffffff"/>
<rect x="1337.00" y="566.00" width="100.00" height="35.00" fill="rgb(230,230,230)"/>
<rect x="1337.5" y="566.5" width="99" height="34" fill="none" stroke="#000" stroke-opacity="0.22" stroke-width="1"/>
<text x="1387.8" y="616.0" font-size="13" fill="#ffffff" text-anchor="middle" textLength="14.0" lengthAdjust="spacingAndGlyphs">90</text>
<rect x="1454.00" y="517.00" width="102.00" height="38.00" fill="#ffffff"/>
<rect x="1455.00" y="518.00" width="100.00" height="36.00" fill="#fcfdff"/>
<rect x="1455.5" y="518.5" width="99" height="35" fill="none" stroke="#000" stroke-opacity="0.22" stroke-width="1"/>
<rect x="1454.00" y="565.00" width="102.00" height="37.00" fill="#ffffff"/>
<rect x="1455.00" y="566.00" width="100.00" height="35.00" fill="rgb(255,255,255)"/>
<rect x="1455.5" y="566.5" width="99" height="34" fill="none" stroke="#000" stroke-opacity="0.22" stroke-width="1"/>
<text x="1505.8" y="616.0" font-size="13" fill="#ffffff" text-anchor="middle" textLength="21.0" lengthAdjust="spacingAndGlyphs">100</text>
<text transform="translate(261.1,553.5) rotate(-90)" font-size="13" fill="#fff" stroke="#fff" stroke-width="0.3" textLength="35" lengthAdjust="spacingAndGlyphs">Actual</text>
<text transform="translate(261.1,601.5) rotate(-90)" font-size="13" fill="#fff" stroke="#fff" stroke-width="0.3" textLength="35.5" lengthAdjust="spacingAndGlyphs">Target</text>
<text x="9.5" y="671.7" font-size="29" fill="#f2f2f2" textLength="226.0" lengthAdjust="spacingAndGlyphs" stroke="#f2f2f2" stroke-width="0.35">Current Reading</text>
<text x="9.3" y="714.7" font-size="25.2" fill="#f2f2f2" textLength="106.5" lengthAdjust="spacingAndGlyphs" stroke="#f2f2f2" stroke-width="0.35">x: 0,3109</text>
<text x="9.3" y="756.7" font-size="25.2" fill="#f2f2f2" textLength="107.5" lengthAdjust="spacingAndGlyphs" stroke="#f2f2f2" stroke-width="0.35">y: 0,3274</text>
<text x="9.8" y="798.5" font-size="25.2" fill="#f2f2f2" textLength="114.5" lengthAdjust="spacingAndGlyphs" stroke="#f2f2f2" stroke-width="0.35">fL: 63,336</text>
<text x="9.0" y="840.5" font-size="25.2" fill="#f2f2f2" textLength="78.5" lengthAdjust="spacingAndGlyphs" stroke="#f2f2f2" stroke-width="0.35">cd/m²:</text>
<text x="93.8" y="840.5" font-size="25.2" fill="#f2f2f2" textLength="95.5" lengthAdjust="spacingAndGlyphs" stroke="#f2f2f2" stroke-width="0.35">217,006</text>
<rect x="331.65" y="638.80" width="301.55" height="222.00" fill="#0086a3"/>
<rect x="338.85" y="646.00" width="287.05" height="209.80" fill="#323232"/>
<rect x="377.80" y="650.00" width="244.60" height="3.60" fill="url(#c0)"/>
<rect x="377.80" y="653.00" width="244.60" height="3.60" fill="url(#c1)"/>
<rect x="377.80" y="656.00" width="244.60" height="3.60" fill="url(#c2)"/>
<rect x="377.80" y="659.00" width="244.60" height="3.60" fill="url(#c3)"/>
<rect x="377.80" y="662.00" width="244.60" height="3.60" fill="url(#c4)"/>
<rect x="377.80" y="665.00" width="244.60" height="3.60" fill="url(#c5)"/>
<rect x="377.80" y="668.00" width="244.60" height="3.60" fill="url(#c6)"/>
<rect x="377.80" y="671.00" width="244.60" height="3.60" fill="url(#c7)"/>
<rect x="377.80" y="674.00" width="244.60" height="3.60" fill="url(#c8)"/>
<rect x="377.80" y="677.00" width="244.60" height="3.60" fill="url(#c9)"/>
<rect x="377.80" y="680.00" width="244.60" height="3.60" fill="url(#c10)"/>
<rect x="377.80" y="683.00" width="244.60" height="3.60" fill="url(#c11)"/>
<rect x="377.80" y="686.00" width="244.60" height="3.60" fill="url(#c12)"/>
<rect x="377.80" y="689.00" width="244.60" height="3.60" fill="url(#c13)"/>
<rect x="377.80" y="692.00" width="244.60" height="3.60" fill="url(#c14)"/>
<rect x="377.80" y="695.00" width="244.60" height="3.60" fill="url(#c15)"/>
<rect x="377.80" y="698.00" width="244.60" height="3.60" fill="url(#c16)"/>
<rect x="377.80" y="701.00" width="244.60" height="3.60" fill="url(#c17)"/>
<rect x="377.80" y="704.00" width="244.60" height="3.60" fill="url(#c18)"/>
<rect x="377.80" y="707.00" width="244.60" height="3.60" fill="url(#c19)"/>
<rect x="377.80" y="710.00" width="244.60" height="3.60" fill="url(#c20)"/>
<rect x="377.80" y="713.00" width="244.60" height="3.60" fill="url(#c21)"/>
<rect x="377.80" y="716.00" width="244.60" height="3.60" fill="url(#c22)"/>
<rect x="377.80" y="719.00" width="244.60" height="3.60" fill="url(#c23)"/>
<rect x="377.80" y="722.00" width="244.60" height="3.60" fill="url(#c24)"/>
<rect x="377.80" y="725.00" width="244.60" height="3.60" fill="url(#c25)"/>
<rect x="377.80" y="728.00" width="244.60" height="3.60" fill="url(#c26)"/>
<rect x="377.80" y="731.00" width="244.60" height="3.60" fill="url(#c27)"/>
<rect x="377.80" y="734.00" width="244.60" height="3.60" fill="url(#c28)"/>
<rect x="377.80" y="737.00" width="244.60" height="3.60" fill="url(#c29)"/>
<rect x="377.80" y="740.00" width="244.60" height="3.60" fill="url(#c30)"/>
<rect x="377.80" y="743.00" width="244.60" height="3.60" fill="url(#c31)"/>
<rect x="377.80" y="746.00" width="244.60" height="3.60" fill="url(#c32)"/>
<rect x="377.80" y="749.00" width="244.60" height="3.60" fill="url(#c33)"/>
<rect x="377.80" y="752.00" width="244.60" height="3.60" fill="url(#c34)"/>
<rect x="377.80" y="755.00" width="244.60" height="3.60" fill="url(#c35)"/>
<rect x="377.80" y="758.00" width="244.60" height="3.60" fill="url(#c36)"/>
<rect x="377.80" y="761.00" width="244.60" height="3.60" fill="url(#c37)"/>
<rect x="377.80" y="764.00" width="244.60" height="3.60" fill="url(#c38)"/>
<rect x="377.80" y="767.00" width="244.60" height="3.60" fill="url(#c39)"/>
<rect x="377.80" y="770.00" width="244.60" height="3.60" fill="url(#c40)"/>
<rect x="377.80" y="773.00" width="244.60" height="3.60" fill="url(#c41)"/>
<rect x="377.80" y="776.00" width="244.60" height="3.60" fill="url(#c42)"/>
<rect x="377.80" y="779.00" width="244.60" height="3.60" fill="url(#c43)"/>
<rect x="377.80" y="782.00" width="244.60" height="3.60" fill="url(#c44)"/>
<rect x="377.80" y="785.00" width="244.60" height="3.60" fill="url(#c45)"/>
<rect x="377.80" y="788.00" width="244.60" height="3.60" fill="url(#c46)"/>
<rect x="377.80" y="791.00" width="244.60" height="3.60" fill="url(#c47)"/>
<rect x="377.80" y="794.00" width="244.60" height="3.60" fill="url(#c48)"/>
<rect x="377.80" y="797.00" width="244.60" height="3.60" fill="url(#c49)"/>
<rect x="377.80" y="800.00" width="244.60" height="3.60" fill="url(#c50)"/>
<rect x="377.80" y="803.00" width="244.60" height="3.60" fill="url(#c51)"/>
<rect x="377.80" y="806.00" width="244.60" height="3.60" fill="url(#c52)"/>
<rect x="377.80" y="809.00" width="244.60" height="3.60" fill="url(#c53)"/>
<rect x="377.80" y="812.00" width="244.60" height="3.60" fill="url(#c54)"/>
<rect x="377.80" y="815.00" width="244.60" height="3.60" fill="url(#c55)"/>
<rect x="377.80" y="818.00" width="244.60" height="3.60" fill="url(#c56)"/>
<rect x="377.80" y="821.00" width="244.60" height="3.60" fill="url(#c57)"/>
<rect x="377.80" y="824.00" width="244.60" height="2.60" fill="url(#c58)"/>
<rect x="377.80" y="650.00" width="244.60" height="176.00" fill="none" stroke="#a0a0a0" stroke-width="1.5"/>
<clipPath id="cc"><rect x="377.80" y="650.00" width="245.30" height="176.70"/></clipPath>
<polyline points="401.0,833.9 420.6,818.5 440.3,803.3 459.9,788.6 479.5,774.1 499.2,760.1 518.8,746.3 538.5,732.9 558.1,719.8 577.7,707.1 597.4,694.6 617.0,682.5 636.7,670.7" fill="none" stroke="#000" stroke-width="2.9" stroke-linejoin="round" clip-path="url(#cc)"/>
<line x1="371.30" y1="663.65" x2="376.30" y2="663.65" stroke="#dcdcdc" stroke-width="1.5"/>
<text x="370.9" y="669.8" font-size="15.5" fill="#dedede" text-anchor="end" textLength="28.9" lengthAdjust="spacingAndGlyphs">0,35</text>
<line x1="371.30" y1="699.02" x2="376.30" y2="699.02" stroke="#dcdcdc" stroke-width="1.5"/>
<text x="370.9" y="705.1" font-size="15.5" fill="#dedede" text-anchor="end" textLength="28.9" lengthAdjust="spacingAndGlyphs">0,34</text>
<line x1="371.30" y1="734.40" x2="376.30" y2="734.40" stroke="#dcdcdc" stroke-width="1.5"/>
<text x="370.9" y="740.5" font-size="15.5" fill="#dedede" text-anchor="end" textLength="28.9" lengthAdjust="spacingAndGlyphs">0,33</text>
<line x1="371.30" y1="769.77" x2="376.30" y2="769.77" stroke="#dcdcdc" stroke-width="1.5"/>
<text x="370.9" y="775.9" font-size="15.5" fill="#dedede" text-anchor="end" textLength="28.9" lengthAdjust="spacingAndGlyphs">0,32</text>
<line x1="371.30" y1="805.15" x2="376.30" y2="805.15" stroke="#dcdcdc" stroke-width="1.5"/>
<text x="370.9" y="811.3" font-size="15.5" fill="#dedede" text-anchor="end" textLength="28.9" lengthAdjust="spacingAndGlyphs">0,31</text>
<line x1="387.30" y1="826.60" x2="387.30" y2="833.00" stroke="#dcdcdc" stroke-width="1.5"/>
<text x="387.3" y="848.9" font-size="15.5" fill="#dedede" text-anchor="middle" textLength="28.9" lengthAdjust="spacingAndGlyphs">0,29</text>
<line x1="436.40" y1="826.60" x2="436.40" y2="833.00" stroke="#dcdcdc" stroke-width="1.5"/>
<text x="436.4" y="848.9" font-size="15.5" fill="#dedede" text-anchor="middle" textLength="20.4" lengthAdjust="spacingAndGlyphs">0,3</text>
<line x1="485.50" y1="826.60" x2="485.50" y2="833.00" stroke="#dcdcdc" stroke-width="1.5"/>
<text x="485.5" y="848.9" font-size="15.5" fill="#dedede" text-anchor="middle" textLength="28.9" lengthAdjust="spacingAndGlyphs">0,31</text>
<line x1="534.60" y1="826.60" x2="534.60" y2="833.00" stroke="#dcdcdc" stroke-width="1.5"/>
<text x="534.6" y="848.9" font-size="15.5" fill="#dedede" text-anchor="middle" textLength="28.9" lengthAdjust="spacingAndGlyphs">0,32</text>
<line x1="583.70" y1="826.60" x2="583.70" y2="833.00" stroke="#dcdcdc" stroke-width="1.5"/>
<text x="583.7" y="848.9" font-size="15.5" fill="#dedede" text-anchor="middle" textLength="28.9" lengthAdjust="spacingAndGlyphs">0,33</text>
<rect x="493.1" y="731" width="12.7" height="12.7" fill="none" stroke="#000" stroke-width="2"/>
<circle cx="473.95" cy="766.8" r="4.6" fill="rgb(26,26,26)" stroke="#000" stroke-width="1"/>
<circle cx="497.5" cy="737.5" r="4.6" fill="rgb(51,51,51)" stroke="#000" stroke-width="1"/>
<circle cx="495.0" cy="738.5" r="4.6" fill="rgb(102,102,102)" stroke="#000" stroke-width="1"/>
<circle cx="494.5" cy="739.5" r="4.6" fill="rgb(128,128,128)" stroke="#000" stroke-width="1"/>
<circle cx="494.0" cy="740.0" r="4.6" fill="rgb(153,153,153)" stroke="#000" stroke-width="1"/>
<circle cx="494.8" cy="740.8" r="4.6" fill="rgb(179,179,179)" stroke="#000" stroke-width="1"/>
<circle cx="495.3" cy="742.2" r="4.6" fill="rgb(204,204,204)" stroke="#000" stroke-width="1"/>
<circle cx="494.6" cy="741.2" r="4.6" fill="rgb(230,230,230)" stroke="#000" stroke-width="1"/>
<circle cx="504.05" cy="733.2" r="4.6" fill="rgb(74,74,74)" stroke="#000" stroke-width="1"/>
<circle cx="489.7" cy="743.05" r="4.6" fill="rgb(255,255,255)" stroke="#000" stroke-width="1"/>
<rect x="633.20" y="640.00" width="814.80" height="29.00" fill="url(#th)"/>
<rect x="633.20" y="640.00" width="13.80" height="29.00" fill="#000"/>
<text x="771.4" y="660.0" font-size="15.6" fill="#ffffff" textLength="8.1" lengthAdjust="spacingAndGlyphs">0</text>
<text x="841.0" y="660.0" font-size="15.6" fill="#ffffff" textLength="16.2" lengthAdjust="spacingAndGlyphs">10</text>
<text x="902.1" y="660.0" font-size="15.6" fill="#ffffff" textLength="16.2" lengthAdjust="spacingAndGlyphs">20</text>
<text x="963.1" y="660.0" font-size="15.6" fill="#ffffff" textLength="16.2" lengthAdjust="spacingAndGlyphs">30</text>
<text x="1024.2" y="660.0" font-size="15.6" fill="#ffffff" textLength="16.2" lengthAdjust="spacingAndGlyphs">40</text>
<text x="1085.3" y="660.0" font-size="15.6" fill="#ffffff" textLength="16.2" lengthAdjust="spacingAndGlyphs">50</text>
<text x="1146.3" y="660.0" font-size="15.6" fill="#ffffff" textLength="16.2" lengthAdjust="spacingAndGlyphs">60</text>
<text x="1207.4" y="660.0" font-size="15.6" fill="#ffffff" textLength="16.2" lengthAdjust="spacingAndGlyphs">70</text>
<text x="1268.5" y="660.0" font-size="15.6" fill="#ffffff" textLength="16.2" lengthAdjust="spacingAndGlyphs">80</text>
<text x="1329.6" y="660.0" font-size="15.6" fill="#ffffff" textLength="16.2" lengthAdjust="spacingAndGlyphs">90</text>
<text x="1390.6" y="660.0" font-size="15.6" fill="#ffffff" textLength="24.3" lengthAdjust="spacingAndGlyphs">100</text>
<rect x="633.20" y="669.00" width="814.80" height="26.70" fill="#404040"/>
<rect x="633.20" y="669.00" width="13.80" height="26.70" fill="url(#rh)"/>
<text x="650.6" y="688.7" font-size="15.6" fill="#ffffff" textLength="51.0" lengthAdjust="spacingAndGlyphs">x: CIE31</text>
<text x="771.4" y="688.7" font-size="15.6" fill="#ffffff" textLength="27.5" lengthAdjust="spacingAndGlyphs">0,26</text>
<text x="841.0" y="688.7" font-size="15.6" fill="#ffffff" textLength="27.5" lengthAdjust="spacingAndGlyphs">0,31</text>
<text x="902.1" y="688.7" font-size="15.6" fill="#ffffff" textLength="27.5" lengthAdjust="spacingAndGlyphs">0,31</text>
<text x="963.1" y="688.7" font-size="15.6" fill="#ffffff" textLength="27.5" lengthAdjust="spacingAndGlyphs">0,31</text>
<text x="1024.2" y="688.7" font-size="15.6" fill="#ffffff" textLength="27.5" lengthAdjust="spacingAndGlyphs">0,31</text>
<text x="1085.3" y="688.7" font-size="15.6" fill="#ffffff" textLength="27.5" lengthAdjust="spacingAndGlyphs">0,31</text>
<text x="1146.3" y="688.7" font-size="15.6" fill="#ffffff" textLength="27.5" lengthAdjust="spacingAndGlyphs">0,31</text>
<text x="1207.4" y="688.7" font-size="15.6" fill="#ffffff" textLength="27.5" lengthAdjust="spacingAndGlyphs">0,31</text>
<text x="1268.5" y="688.7" font-size="15.6" fill="#ffffff" textLength="27.5" lengthAdjust="spacingAndGlyphs">0,31</text>
<text x="1329.6" y="688.7" font-size="15.6" fill="#ffffff" textLength="27.5" lengthAdjust="spacingAndGlyphs">0,31</text>
<text x="1390.6" y="688.7" font-size="15.6" fill="#ffffff" textLength="27.5" lengthAdjust="spacingAndGlyphs">0,31</text>
<rect x="633.20" y="695.70" width="814.80" height="26.50" fill="#808080"/>
<rect x="633.20" y="695.70" width="13.80" height="26.50" fill="url(#rh)"/>
<text x="650.6" y="715.4" font-size="15.6" fill="#ececec" textLength="51.2" lengthAdjust="spacingAndGlyphs">y: CIE31</text>
<text x="771.4" y="715.4" font-size="15.6" fill="#ececec" textLength="27.5" lengthAdjust="spacingAndGlyphs">0,28</text>
<text x="841.0" y="715.4" font-size="15.6" fill="#ececec" textLength="27.5" lengthAdjust="spacingAndGlyphs">0,32</text>
<text x="902.1" y="715.4" font-size="15.6" fill="#ececec" textLength="27.5" lengthAdjust="spacingAndGlyphs">0,33</text>
<text x="963.1" y="715.4" font-size="15.6" fill="#ececec" textLength="27.5" lengthAdjust="spacingAndGlyphs">0,33</text>
<text x="1024.2" y="715.4" font-size="15.6" fill="#ececec" textLength="27.5" lengthAdjust="spacingAndGlyphs">0,33</text>
<text x="1085.3" y="715.4" font-size="15.6" fill="#ececec" textLength="27.5" lengthAdjust="spacingAndGlyphs">0,33</text>
<text x="1146.3" y="715.4" font-size="15.6" fill="#ececec" textLength="27.5" lengthAdjust="spacingAndGlyphs">0,33</text>
<text x="1207.4" y="715.4" font-size="15.6" fill="#ececec" textLength="27.5" lengthAdjust="spacingAndGlyphs">0,33</text>
<text x="1268.5" y="715.4" font-size="15.6" fill="#ececec" textLength="27.5" lengthAdjust="spacingAndGlyphs">0,33</text>
<text x="1329.6" y="715.4" font-size="15.6" fill="#ececec" textLength="27.5" lengthAdjust="spacingAndGlyphs">0,33</text>
<text x="1390.6" y="715.4" font-size="15.6" fill="#ececec" textLength="27.5" lengthAdjust="spacingAndGlyphs">0,33</text>
<rect x="633.20" y="722.20" width="814.80" height="26.70" fill="#404040"/>
<rect x="633.20" y="722.20" width="13.80" height="26.70" fill="url(#rh)"/>
<text x="650.6" y="741.9" font-size="15.6" fill="#ffffff" textLength="8.6" lengthAdjust="spacingAndGlyphs">Y</text>
<text x="771.4" y="741.9" font-size="15.6" fill="#ffffff" textLength="27.5" lengthAdjust="spacingAndGlyphs">0,17</text>
<text x="841.0" y="741.9" font-size="15.6" fill="#ffffff" textLength="27.5" lengthAdjust="spacingAndGlyphs">2,00</text>
<text x="902.1" y="741.9" font-size="15.6" fill="#ffffff" textLength="27.5" lengthAdjust="spacingAndGlyphs">6,73</text>
<text x="963.1" y="741.9" font-size="15.6" fill="#ffffff" textLength="35.6" lengthAdjust="spacingAndGlyphs">14,60</text>
<text x="1024.2" y="741.9" font-size="15.6" fill="#ffffff" textLength="35.6" lengthAdjust="spacingAndGlyphs">28,41</text>
<text x="1085.3" y="741.9" font-size="15.6" fill="#ffffff" textLength="35.6" lengthAdjust="spacingAndGlyphs">46,14</text>
<text x="1146.3" y="741.9" font-size="15.6" fill="#ffffff" textLength="35.6" lengthAdjust="spacingAndGlyphs">67,79</text>
<text x="1207.4" y="741.9" font-size="15.6" fill="#ffffff" textLength="35.6" lengthAdjust="spacingAndGlyphs">96,13</text>
<text x="1268.5" y="741.9" font-size="15.6" fill="#ffffff" textLength="43.7" lengthAdjust="spacingAndGlyphs">131,02</text>
<text x="1329.6" y="741.9" font-size="15.6" fill="#ffffff" textLength="43.7" lengthAdjust="spacingAndGlyphs">171,09</text>
<text x="1390.6" y="741.9" font-size="15.6" fill="#ffffff" textLength="43.7" lengthAdjust="spacingAndGlyphs">217,01</text>
<rect x="633.20" y="748.90" width="814.80" height="26.60" fill="#808080"/>
<rect x="633.20" y="748.90" width="13.80" height="26.60" fill="url(#rh)"/>
<text x="650.6" y="768.6" font-size="15.6" fill="#ececec" textLength="54.3" lengthAdjust="spacingAndGlyphs">Target Y</text>
<text x="771.4" y="768.6" font-size="15.6" fill="#ececec" textLength="27.5" lengthAdjust="spacingAndGlyphs">0,00</text>
<text x="841.0" y="768.6" font-size="15.6" fill="#ececec" textLength="27.5" lengthAdjust="spacingAndGlyphs">2,24</text>
<text x="902.1" y="768.6" font-size="15.6" fill="#ececec" textLength="27.5" lengthAdjust="spacingAndGlyphs">7,18</text>
<text x="963.1" y="768.6" font-size="15.6" fill="#ececec" textLength="35.6" lengthAdjust="spacingAndGlyphs">15,68</text>
<text x="1024.2" y="768.6" font-size="15.6" fill="#ececec" textLength="35.6" lengthAdjust="spacingAndGlyphs">28,83</text>
<text x="1085.3" y="768.6" font-size="15.6" fill="#ececec" textLength="35.6" lengthAdjust="spacingAndGlyphs">46,84</text>
<text x="1146.3" y="768.6" font-size="15.6" fill="#ececec" textLength="35.6" lengthAdjust="spacingAndGlyphs">69,13</text>
<text x="1207.4" y="768.6" font-size="15.6" fill="#ececec" textLength="35.6" lengthAdjust="spacingAndGlyphs">96,61</text>
<text x="1268.5" y="768.6" font-size="15.6" fill="#ececec" textLength="43.7" lengthAdjust="spacingAndGlyphs">131,03</text>
<text x="1329.6" y="768.6" font-size="15.6" fill="#ececec" textLength="43.7" lengthAdjust="spacingAndGlyphs">171,72</text>
<text x="1390.6" y="768.6" font-size="15.6" fill="#ececec" textLength="43.7" lengthAdjust="spacingAndGlyphs">217,01</text>
<rect x="633.20" y="775.50" width="814.80" height="26.50" fill="#404040"/>
<rect x="633.20" y="775.50" width="13.80" height="26.50" fill="url(#rh)"/>
<text x="650.6" y="795.2" font-size="15.6" fill="#ffffff" textLength="112.2" lengthAdjust="spacingAndGlyphs">Gamma Log/Log</text>
<text x="771.4" y="795.2" font-size="15.6" fill="#ffffff" textLength="27.5" lengthAdjust="spacingAndGlyphs">1,28</text>
<text x="841.0" y="795.2" font-size="15.6" fill="#ffffff" textLength="27.5" lengthAdjust="spacingAndGlyphs">2,05</text>
<text x="902.1" y="795.2" font-size="15.6" fill="#ffffff" textLength="27.5" lengthAdjust="spacingAndGlyphs">2,16</text>
<text x="963.1" y="795.2" font-size="15.6" fill="#ffffff" textLength="27.5" lengthAdjust="spacingAndGlyphs">2,23</text>
<text x="1024.2" y="795.2" font-size="15.6" fill="#ffffff" textLength="27.5" lengthAdjust="spacingAndGlyphs">2,22</text>
<text x="1085.3" y="795.2" font-size="15.6" fill="#ffffff" textLength="27.5" lengthAdjust="spacingAndGlyphs">2,25</text>
<text x="1146.3" y="795.2" font-size="15.6" fill="#ffffff" textLength="27.5" lengthAdjust="spacingAndGlyphs">2,28</text>
<text x="1207.4" y="795.2" font-size="15.6" fill="#ffffff" textLength="27.5" lengthAdjust="spacingAndGlyphs">2,27</text>
<text x="1268.5" y="795.2" font-size="15.6" fill="#ffffff" textLength="27.5" lengthAdjust="spacingAndGlyphs">2,26</text>
<text x="1329.6" y="795.2" font-size="15.6" fill="#ffffff" textLength="27.5" lengthAdjust="spacingAndGlyphs">2,30</text>
<text x="1390.6" y="795.2" font-size="15.6" fill="#ffffff" textLength="27.5" lengthAdjust="spacingAndGlyphs">2,27</text>
<rect x="633.20" y="802.00" width="814.80" height="26.60" fill="#808080"/>
<rect x="633.20" y="802.00" width="13.80" height="26.60" fill="url(#rh)"/>
<text x="650.6" y="821.7" font-size="15.6" fill="#ececec" textLength="26.5" lengthAdjust="spacingAndGlyphs">CCT</text>
<text x="771.4" y="821.7" font-size="15.6" fill="#ececec" textLength="59.9" lengthAdjust="spacingAndGlyphs">13008,00</text>
<text x="841.0" y="821.7" font-size="15.6" fill="#ececec" textLength="51.8" lengthAdjust="spacingAndGlyphs">6871,00</text>
<text x="902.1" y="821.7" font-size="15.6" fill="#ececec" textLength="51.8" lengthAdjust="spacingAndGlyphs">6539,00</text>
<text x="963.1" y="821.7" font-size="15.6" fill="#ececec" textLength="51.8" lengthAdjust="spacingAndGlyphs">6448,00</text>
<text x="1024.2" y="821.7" font-size="15.6" fill="#ececec" textLength="51.8" lengthAdjust="spacingAndGlyphs">6535,00</text>
<text x="1085.3" y="821.7" font-size="15.6" fill="#ececec" textLength="51.8" lengthAdjust="spacingAndGlyphs">6565,00</text>
<text x="1146.3" y="821.7" font-size="15.6" fill="#ececec" textLength="51.8" lengthAdjust="spacingAndGlyphs">6575,00</text>
<text x="1207.4" y="821.7" font-size="15.6" fill="#ececec" textLength="51.8" lengthAdjust="spacingAndGlyphs">6558,00</text>
<text x="1268.5" y="821.7" font-size="15.6" fill="#ececec" textLength="51.8" lengthAdjust="spacingAndGlyphs">6574,00</text>
<text x="1329.6" y="821.7" font-size="15.6" fill="#ececec" textLength="51.8" lengthAdjust="spacingAndGlyphs">6571,00</text>
<text x="1390.6" y="821.7" font-size="15.6" fill="#ececec" textLength="51.8" lengthAdjust="spacingAndGlyphs">6618,00</text>
<rect x="633.20" y="828.60" width="814.80" height="26.60" fill="#404040"/>
<rect x="633.20" y="828.60" width="13.80" height="26.60" fill="url(#rh)"/>
<text x="650.6" y="848.3" font-size="15.6" fill="#ffffff" textLength="55.0" lengthAdjust="spacingAndGlyphs">ΔE 2000</text>
<text x="771.4" y="848.3" font-size="15.6" fill="#ffffff" textLength="27.5" lengthAdjust="spacingAndGlyphs">0,76</text>
<text x="841.0" y="848.3" font-size="15.6" fill="#ffffff" textLength="27.5" lengthAdjust="spacingAndGlyphs">1,17</text>
<text x="902.1" y="848.3" font-size="15.6" fill="#ffffff" textLength="27.5" lengthAdjust="spacingAndGlyphs">0,57</text>
<text x="963.1" y="848.3" font-size="15.6" fill="#ffffff" textLength="27.5" lengthAdjust="spacingAndGlyphs">0,93</text>
<text x="1024.2" y="848.3" font-size="15.6" fill="#ffffff" textLength="27.5" lengthAdjust="spacingAndGlyphs">0,42</text>
<text x="1085.3" y="848.3" font-size="15.6" fill="#ffffff" textLength="27.5" lengthAdjust="spacingAndGlyphs">0,64</text>
<text x="1146.3" y="848.3" font-size="15.6" fill="#ffffff" textLength="27.5" lengthAdjust="spacingAndGlyphs">0,77</text>
<text x="1207.4" y="848.3" font-size="15.6" fill="#ffffff" textLength="27.5" lengthAdjust="spacingAndGlyphs">0,85</text>
<text x="1268.5" y="848.3" font-size="15.6" fill="#ffffff" textLength="27.5" lengthAdjust="spacingAndGlyphs">0,66</text>
<text x="1329.6" y="848.3" font-size="15.6" fill="#ffffff" textLength="27.5" lengthAdjust="spacingAndGlyphs">0,55</text>
<text x="1390.6" y="848.3" font-size="15.6" fill="#ffffff" textLength="27.5" lengthAdjust="spacingAndGlyphs">0,98</text>
</svg>
</body></html>
